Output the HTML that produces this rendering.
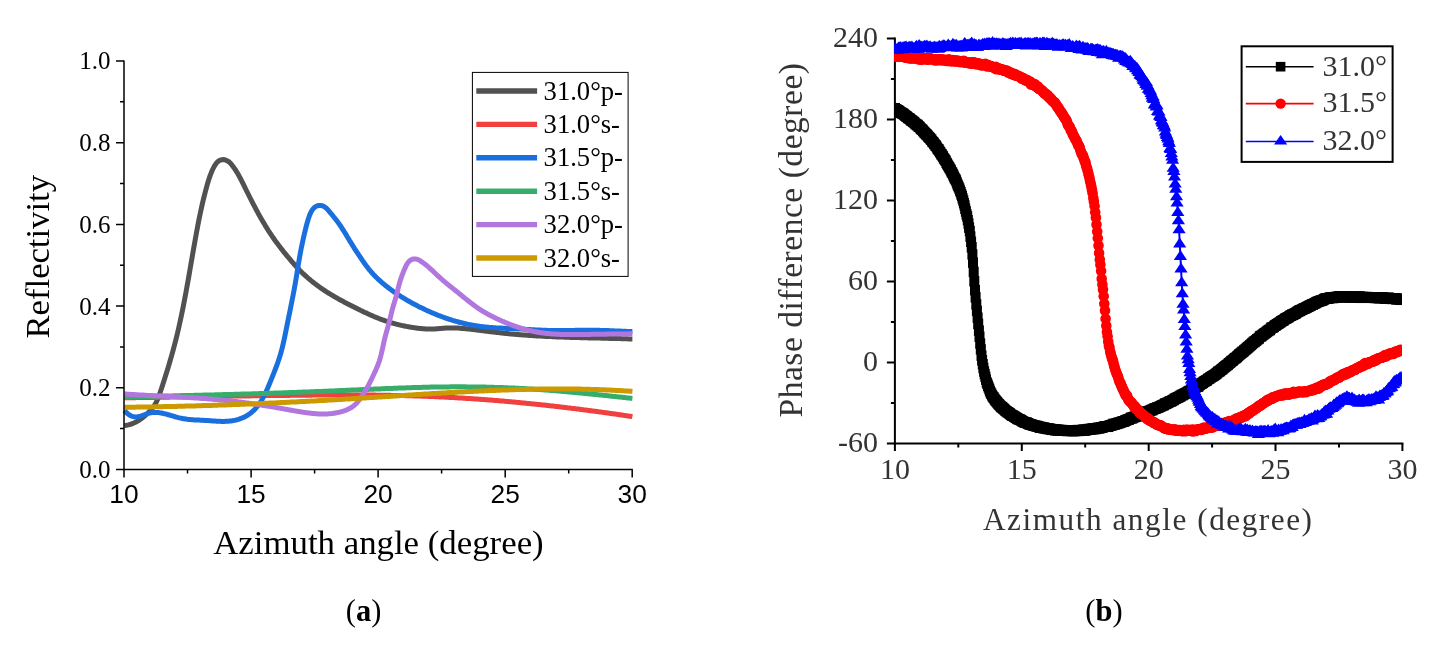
<!DOCTYPE html>
<html><head><meta charset="utf-8"><title>Figure</title>
<style>html,body{margin:0;padding:0;background:#fff}svg{display:block}</style></head>
<body>
<svg width="1443" height="646" viewBox="0 0 1443 646">
<rect width="1443" height="646" fill="#fff"/>
<g fill="none" stroke-width="5" stroke-linejoin="round" stroke-linecap="butt">
<path stroke="#515151" d="M124.4,425.5 L125.4,425.4 L126.4,425.3 L127.4,425.1 L128.4,424.9 L129.4,424.6 L130.4,424.3 L131.4,424.0 L132.4,423.6 L133.4,423.2 L134.4,422.8 L135.4,422.3 L136.4,421.8 L137.4,421.2 L138.4,420.6 L139.4,420.0 L140.4,419.3 L141.4,418.6 L142.4,417.8 L143.4,417.0 L144.4,416.2 L145.4,415.3 L146.4,414.4 L147.4,413.5 L148.4,412.5 L149.4,411.5 L150.4,410.4 L151.4,409.3 L152.4,408.1 L153.4,406.8 L154.4,405.4 L155.4,403.8 L156.4,401.9 L157.4,399.8 L158.4,397.4 L159.4,394.7 L160.4,391.8 L161.4,388.8 L162.4,385.7 L163.4,382.6 L164.4,379.5 L165.4,376.3 L166.4,373.1 L167.4,369.9 L168.4,366.6 L169.4,363.2 L170.4,359.8 L171.4,356.4 L172.4,352.8 L173.4,349.2 L174.4,345.4 L175.4,341.6 L176.4,337.6 L177.4,333.5 L178.4,329.2 L179.4,324.8 L180.4,320.3 L181.4,315.6 L182.4,310.7 L183.4,305.7 L184.4,300.6 L185.4,295.3 L186.4,289.9 L187.4,284.3 L188.4,278.7 L189.4,273.0 L190.4,267.2 L191.4,261.4 L192.4,255.7 L193.4,249.9 L194.4,244.2 L195.4,238.6 L196.4,233.1 L197.4,227.7 L198.4,222.5 L199.4,217.5 L200.4,212.7 L201.4,208.1 L202.4,203.6 L203.4,199.4 L204.4,195.4 L205.4,191.5 L206.4,187.8 L207.4,184.2 L208.4,180.8 L209.4,177.7 L210.4,174.9 L211.4,172.3 L212.4,170.0 L213.4,168.0 L214.4,166.1 L215.4,164.5 L216.4,163.1 L217.4,162.1 L218.4,161.2 L219.4,160.6 L220.4,160.1 L221.4,159.8 L222.4,159.7 L223.4,159.6 L224.4,159.7 L225.4,160.0 L226.4,160.4 L227.4,160.9 L228.4,161.5 L229.4,162.3 L230.4,163.3 L231.4,164.4 L232.4,165.6 L233.4,167.0 L234.4,168.4 L235.4,169.8 L236.4,171.4 L237.4,173.1 L238.4,174.8 L239.4,176.6 L240.4,178.5 L241.4,180.4 L242.4,182.4 L243.4,184.4 L244.4,186.4 L245.4,188.5 L246.4,190.5 L247.4,192.5 L248.4,194.5 L249.4,196.5 L250.4,198.5 L251.4,200.4 L252.4,202.4 L253.4,204.3 L254.4,206.2 L255.4,208.1 L256.4,210.0 L257.4,211.8 L258.4,213.7 L259.4,215.5 L260.4,217.2 L261.4,219.0 L262.4,220.7 L263.4,222.4 L264.4,224.1 L265.4,225.8 L266.4,227.4 L267.4,229.0 L268.4,230.6 L269.4,232.1 L270.4,233.6 L271.4,235.1 L272.4,236.6 L273.4,238.0 L274.4,239.5 L275.4,240.9 L276.4,242.2 L277.4,243.6 L278.4,244.9 L279.4,246.3 L280.4,247.6 L281.4,248.9 L282.4,250.1 L283.4,251.4 L284.4,252.7 L285.4,253.9 L286.4,255.1 L287.4,256.3 L288.4,257.5 L289.4,258.7 L290.4,259.9 L291.4,261.1 L292.4,262.2 L293.4,263.4 L294.4,264.5 L295.4,265.6 L296.4,266.7 L297.4,267.8 L298.4,268.8 L299.4,269.9 L300.4,270.9 L301.4,271.9 L302.4,272.9 L303.4,273.9 L304.4,274.8 L305.4,275.7 L306.4,276.6 L307.4,277.5 L308.4,278.4 L309.4,279.2 L310.4,280.1 L311.4,280.9 L312.4,281.7 L313.4,282.5 L314.4,283.3 L315.4,284.0 L316.4,284.8 L317.4,285.5 L318.4,286.3 L319.4,287.0 L320.4,287.7 L321.4,288.4 L322.4,289.1 L323.4,289.7 L324.4,290.4 L325.4,291.1 L326.4,291.7 L327.4,292.4 L328.4,293.0 L329.4,293.6 L330.4,294.2 L331.4,294.8 L332.4,295.4 L333.4,296.0 L334.4,296.6 L335.4,297.2 L336.4,297.8 L337.4,298.3 L338.4,298.9 L339.4,299.5 L340.4,300.0 L341.4,300.6 L342.4,301.1 L343.4,301.6 L344.4,302.2 L345.4,302.7 L346.4,303.2 L347.4,303.8 L348.4,304.3 L349.4,304.8 L350.4,305.3 L351.4,305.8 L352.4,306.3 L353.4,306.8 L354.4,307.3 L355.4,307.8 L356.4,308.3 L357.4,308.8 L358.4,309.3 L359.4,309.8 L360.4,310.3 L361.4,310.7 L362.4,311.2 L363.4,311.7 L364.4,312.2 L365.4,312.6 L366.4,313.1 L367.4,313.6 L368.4,314.0 L369.4,314.5 L370.4,314.9 L371.4,315.4 L372.4,315.8 L373.4,316.3 L374.4,316.7 L375.4,317.1 L376.4,317.5 L377.4,317.9 L378.4,318.3 L379.4,318.7 L380.4,319.1 L381.4,319.5 L382.4,319.8 L383.4,320.2 L384.4,320.5 L385.4,320.9 L386.4,321.2 L387.4,321.5 L388.4,321.9 L389.4,322.2 L390.4,322.5 L391.4,322.8 L392.4,323.1 L393.4,323.3 L394.4,323.6 L395.4,323.9 L396.4,324.2 L397.4,324.4 L398.4,324.7 L399.4,324.9 L400.4,325.1 L401.4,325.4 L402.4,325.6 L403.4,325.8 L404.4,326.0 L405.4,326.2 L406.4,326.4 L407.4,326.6 L408.4,326.8 L409.4,327.0 L410.4,327.1 L411.4,327.3 L412.4,327.4 L413.4,327.6 L414.4,327.7 L415.4,327.9 L416.4,328.0 L417.4,328.2 L418.4,328.3 L419.4,328.4 L420.4,328.5 L421.4,328.6 L422.4,328.7 L423.4,328.8 L424.4,328.8 L425.4,328.9 L426.4,329.0 L427.4,329.0 L428.4,329.0 L429.4,329.0 L430.4,329.0 L431.4,329.0 L432.4,329.0 L433.4,329.0 L434.4,328.9 L435.4,328.9 L436.4,328.8 L437.4,328.8 L438.4,328.7 L439.4,328.6 L440.4,328.5 L441.4,328.4 L442.4,328.3 L443.4,328.3 L444.4,328.2 L445.4,328.1 L446.4,328.1 L447.4,328.0 L448.4,328.0 L449.4,327.9 L450.4,327.9 L451.4,327.9 L452.4,327.9 L453.4,327.9 L454.4,327.9 L455.4,328.0 L456.4,328.0 L457.4,328.1 L458.4,328.1 L459.4,328.2 L460.4,328.3 L461.4,328.4 L462.4,328.4 L463.4,328.5 L464.4,328.6 L465.4,328.7 L466.4,328.8 L467.4,328.9 L468.4,329.0 L469.4,329.1 L470.4,329.2 L471.4,329.3 L472.4,329.5 L473.4,329.6 L474.4,329.7 L475.4,329.8 L476.4,329.9 L477.4,330.0 L478.4,330.2 L479.4,330.3 L480.4,330.4 L481.4,330.5 L482.4,330.7 L483.4,330.8 L484.4,330.9 L485.4,331.0 L486.4,331.2 L487.4,331.3 L488.4,331.4 L489.4,331.5 L490.4,331.7 L491.4,331.8 L492.4,331.9 L493.4,332.0 L494.4,332.1 L495.4,332.3 L496.4,332.4 L497.4,332.5 L498.4,332.6 L499.4,332.7 L500.4,332.8 L501.4,333.0 L502.4,333.1 L503.4,333.2 L504.4,333.3 L505.4,333.4 L506.4,333.5 L507.4,333.6 L508.4,333.7 L509.4,333.8 L510.4,333.9 L511.4,334.0 L512.4,334.1 L513.4,334.2 L514.4,334.2 L515.4,334.3 L516.4,334.4 L517.4,334.5 L518.4,334.6 L519.4,334.7 L520.4,334.7 L521.4,334.8 L522.4,334.9 L523.4,335.0 L524.4,335.1 L525.4,335.1 L526.4,335.2 L527.4,335.3 L528.4,335.3 L529.4,335.4 L530.4,335.5 L531.4,335.5 L532.4,335.6 L533.4,335.7 L534.4,335.7 L535.4,335.8 L536.4,335.9 L537.4,335.9 L538.4,336.0 L539.4,336.0 L540.4,336.1 L541.4,336.1 L542.4,336.2 L543.4,336.3 L544.4,336.3 L545.4,336.4 L546.4,336.4 L547.4,336.5 L548.4,336.5 L549.4,336.5 L550.4,336.6 L551.4,336.6 L552.4,336.7 L553.4,336.7 L554.4,336.8 L555.4,336.8 L556.4,336.9 L557.4,336.9 L558.4,336.9 L559.4,337.0 L560.4,337.0 L561.4,337.0 L562.4,337.1 L563.4,337.1 L564.4,337.2 L565.4,337.2 L566.4,337.2 L567.4,337.3 L568.4,337.3 L569.4,337.3 L570.4,337.4 L571.4,337.4 L572.4,337.4 L573.4,337.4 L574.4,337.5 L575.4,337.5 L576.4,337.5 L577.4,337.6 L578.4,337.6 L579.4,337.6 L580.4,337.7 L581.4,337.7 L582.4,337.7 L583.4,337.7 L584.4,337.8 L585.4,337.8 L586.4,337.8 L587.4,337.8 L588.4,337.9 L589.4,337.9 L590.4,337.9 L591.4,337.9 L592.4,338.0 L593.4,338.0 L594.4,338.0 L595.4,338.0 L596.4,338.1 L597.4,338.1 L598.4,338.1 L599.4,338.1 L600.4,338.1 L601.4,338.2 L602.4,338.2 L603.4,338.2 L604.4,338.2 L605.4,338.3 L606.4,338.3 L607.4,338.3 L608.4,338.3 L609.4,338.4 L610.4,338.4 L611.4,338.4 L612.4,338.4 L613.4,338.5 L614.4,338.5 L615.4,338.5 L616.4,338.5 L617.4,338.6 L618.4,338.6 L619.4,338.6 L620.4,338.6 L621.4,338.7 L622.4,338.7 L623.4,338.7 L624.4,338.8 L625.4,338.8 L626.4,338.8 L627.4,338.8 L628.4,338.9 L629.4,338.9 L630.4,338.9 L631.4,339.0 L632.4,339.0"/>
<path stroke="#F14040" d="M124.4,397.8 L125.4,397.8 L126.4,397.8 L127.4,397.8 L128.4,397.8 L129.4,397.7 L130.4,397.7 L131.4,397.7 L132.4,397.7 L133.4,397.7 L134.4,397.7 L135.4,397.7 L136.4,397.6 L137.4,397.6 L138.4,397.6 L139.4,397.6 L140.4,397.6 L141.4,397.6 L142.4,397.6 L143.4,397.6 L144.4,397.5 L145.4,397.5 L146.4,397.5 L147.4,397.5 L148.4,397.5 L149.4,397.5 L150.4,397.5 L151.4,397.4 L152.4,397.4 L153.4,397.4 L154.4,397.4 L155.4,397.4 L156.4,397.4 L157.4,397.4 L158.4,397.3 L159.4,397.3 L160.4,397.3 L161.4,397.3 L162.4,397.3 L163.4,397.3 L164.4,397.2 L165.4,397.2 L166.4,397.2 L167.4,397.2 L168.4,397.2 L169.4,397.2 L170.4,397.1 L171.4,397.1 L172.4,397.1 L173.4,397.1 L174.4,397.1 L175.4,397.1 L176.4,397.1 L177.4,397.0 L178.4,397.0 L179.4,397.0 L180.4,397.0 L181.4,397.0 L182.4,397.0 L183.4,396.9 L184.4,396.9 L185.4,396.9 L186.4,396.9 L187.4,396.9 L188.4,396.9 L189.4,396.8 L190.4,396.8 L191.4,396.8 L192.4,396.8 L193.4,396.8 L194.4,396.8 L195.4,396.7 L196.4,396.7 L197.4,396.7 L198.4,396.7 L199.4,396.7 L200.4,396.7 L201.4,396.6 L202.4,396.6 L203.4,396.6 L204.4,396.6 L205.4,396.6 L206.4,396.6 L207.4,396.5 L208.4,396.5 L209.4,396.5 L210.4,396.5 L211.4,396.5 L212.4,396.5 L213.4,396.4 L214.4,396.4 L215.4,396.4 L216.4,396.4 L217.4,396.4 L218.4,396.4 L219.4,396.3 L220.4,396.3 L221.4,396.3 L222.4,396.3 L223.4,396.3 L224.4,396.3 L225.4,396.2 L226.4,396.2 L227.4,396.2 L228.4,396.2 L229.4,396.2 L230.4,396.2 L231.4,396.1 L232.4,396.1 L233.4,396.1 L234.4,396.1 L235.4,396.1 L236.4,396.1 L237.4,396.1 L238.4,396.0 L239.4,396.0 L240.4,396.0 L241.4,396.0 L242.4,396.0 L243.4,396.0 L244.4,395.9 L245.4,395.9 L246.4,395.9 L247.4,395.9 L248.4,395.9 L249.4,395.9 L250.4,395.9 L251.4,395.8 L252.4,395.8 L253.4,395.8 L254.4,395.8 L255.4,395.8 L256.4,395.8 L257.4,395.8 L258.4,395.7 L259.4,395.7 L260.4,395.7 L261.4,395.7 L262.4,395.7 L263.4,395.7 L264.4,395.7 L265.4,395.6 L266.4,395.6 L267.4,395.6 L268.4,395.6 L269.4,395.6 L270.4,395.6 L271.4,395.6 L272.4,395.6 L273.4,395.5 L274.4,395.5 L275.4,395.5 L276.4,395.5 L277.4,395.5 L278.4,395.5 L279.4,395.5 L280.4,395.5 L281.4,395.4 L282.4,395.4 L283.4,395.4 L284.4,395.4 L285.4,395.4 L286.4,395.4 L287.4,395.4 L288.4,395.4 L289.4,395.4 L290.4,395.3 L291.4,395.3 L292.4,395.3 L293.4,395.3 L294.4,395.3 L295.4,395.3 L296.4,395.3 L297.4,395.3 L298.4,395.3 L299.4,395.3 L300.4,395.2 L301.4,395.2 L302.4,395.2 L303.4,395.2 L304.4,395.2 L305.4,395.2 L306.4,395.2 L307.4,395.2 L308.4,395.2 L309.4,395.2 L310.4,395.2 L311.4,395.2 L312.4,395.1 L313.4,395.1 L314.4,395.1 L315.4,395.1 L316.4,395.1 L317.4,395.1 L318.4,395.1 L319.4,395.1 L320.4,395.1 L321.4,395.1 L322.4,395.1 L323.4,395.1 L324.4,395.1 L325.4,395.1 L326.4,395.1 L327.4,395.1 L328.4,395.1 L329.4,395.1 L330.4,395.1 L331.4,395.0 L332.4,395.0 L333.4,395.0 L334.4,395.0 L335.4,395.0 L336.4,395.0 L337.4,395.0 L338.4,395.0 L339.4,395.0 L340.4,395.0 L341.4,395.0 L342.4,395.0 L343.4,395.0 L344.4,395.0 L345.4,395.0 L346.4,395.0 L347.4,395.0 L348.4,395.0 L349.4,395.0 L350.4,395.0 L351.4,395.0 L352.4,395.0 L353.4,395.0 L354.4,395.0 L355.4,395.0 L356.4,395.0 L357.4,395.0 L358.4,395.0 L359.4,395.0 L360.4,395.0 L361.4,395.1 L362.4,395.1 L363.4,395.1 L364.4,395.1 L365.4,395.1 L366.4,395.1 L367.4,395.1 L368.4,395.1 L369.4,395.1 L370.4,395.1 L371.4,395.1 L372.4,395.1 L373.4,395.1 L374.4,395.1 L375.4,395.1 L376.4,395.2 L377.4,395.2 L378.4,395.2 L379.4,395.2 L380.4,395.2 L381.4,395.2 L382.4,395.2 L383.4,395.2 L384.4,395.3 L385.4,395.3 L386.4,395.3 L387.4,395.3 L388.4,395.3 L389.4,395.3 L390.4,395.3 L391.4,395.4 L392.4,395.4 L393.4,395.4 L394.4,395.4 L395.4,395.4 L396.4,395.5 L397.4,395.5 L398.4,395.5 L399.4,395.5 L400.4,395.5 L401.4,395.6 L402.4,395.6 L403.4,395.6 L404.4,395.6 L405.4,395.7 L406.4,395.7 L407.4,395.7 L408.4,395.7 L409.4,395.8 L410.4,395.8 L411.4,395.8 L412.4,395.8 L413.4,395.9 L414.4,395.9 L415.4,395.9 L416.4,396.0 L417.4,396.0 L418.4,396.0 L419.4,396.1 L420.4,396.1 L421.4,396.1 L422.4,396.2 L423.4,396.2 L424.4,396.2 L425.4,396.3 L426.4,396.3 L427.4,396.3 L428.4,396.4 L429.4,396.4 L430.4,396.5 L431.4,396.5 L432.4,396.5 L433.4,396.6 L434.4,396.6 L435.4,396.7 L436.4,396.7 L437.4,396.8 L438.4,396.8 L439.4,396.9 L440.4,396.9 L441.4,397.0 L442.4,397.0 L443.4,397.1 L444.4,397.1 L445.4,397.2 L446.4,397.2 L447.4,397.3 L448.4,397.3 L449.4,397.4 L450.4,397.4 L451.4,397.5 L452.4,397.5 L453.4,397.6 L454.4,397.6 L455.4,397.7 L456.4,397.7 L457.4,397.8 L458.4,397.9 L459.4,397.9 L460.4,398.0 L461.4,398.0 L462.4,398.1 L463.4,398.2 L464.4,398.2 L465.4,398.3 L466.4,398.4 L467.4,398.4 L468.4,398.5 L469.4,398.5 L470.4,398.6 L471.4,398.7 L472.4,398.7 L473.4,398.8 L474.4,398.9 L475.4,399.0 L476.4,399.0 L477.4,399.1 L478.4,399.2 L479.4,399.2 L480.4,399.3 L481.4,399.4 L482.4,399.5 L483.4,399.5 L484.4,399.6 L485.4,399.7 L486.4,399.8 L487.4,399.8 L488.4,399.9 L489.4,400.0 L490.4,400.1 L491.4,400.1 L492.4,400.2 L493.4,400.3 L494.4,400.4 L495.4,400.5 L496.4,400.5 L497.4,400.6 L498.4,400.7 L499.4,400.8 L500.4,400.9 L501.4,401.0 L502.4,401.0 L503.4,401.1 L504.4,401.2 L505.4,401.3 L506.4,401.4 L507.4,401.5 L508.4,401.6 L509.4,401.7 L510.4,401.7 L511.4,401.8 L512.4,401.9 L513.4,402.0 L514.4,402.1 L515.4,402.2 L516.4,402.3 L517.4,402.4 L518.4,402.5 L519.4,402.6 L520.4,402.7 L521.4,402.8 L522.4,402.9 L523.4,403.0 L524.4,403.1 L525.4,403.2 L526.4,403.3 L527.4,403.4 L528.4,403.5 L529.4,403.6 L530.4,403.7 L531.4,403.8 L532.4,403.9 L533.4,404.0 L534.4,404.1 L535.4,404.2 L536.4,404.3 L537.4,404.4 L538.4,404.5 L539.4,404.6 L540.4,404.7 L541.4,404.8 L542.4,404.9 L543.4,405.0 L544.4,405.1 L545.4,405.2 L546.4,405.3 L547.4,405.5 L548.4,405.6 L549.4,405.7 L550.4,405.8 L551.4,405.9 L552.4,406.0 L553.4,406.1 L554.4,406.2 L555.4,406.4 L556.4,406.5 L557.4,406.6 L558.4,406.7 L559.4,406.8 L560.4,406.9 L561.4,407.1 L562.4,407.2 L563.4,407.3 L564.4,407.4 L565.4,407.5 L566.4,407.6 L567.4,407.8 L568.4,407.9 L569.4,408.0 L570.4,408.1 L571.4,408.3 L572.4,408.4 L573.4,408.5 L574.4,408.6 L575.4,408.7 L576.4,408.9 L577.4,409.0 L578.4,409.1 L579.4,409.2 L580.4,409.4 L581.4,409.5 L582.4,409.6 L583.4,409.8 L584.4,409.9 L585.4,410.0 L586.4,410.1 L587.4,410.3 L588.4,410.4 L589.4,410.5 L590.4,410.7 L591.4,410.8 L592.4,410.9 L593.4,411.1 L594.4,411.2 L595.4,411.3 L596.4,411.5 L597.4,411.6 L598.4,411.7 L599.4,411.9 L600.4,412.0 L601.4,412.1 L602.4,412.3 L603.4,412.4 L604.4,412.6 L605.4,412.7 L606.4,412.8 L607.4,413.0 L608.4,413.1 L609.4,413.3 L610.4,413.4 L611.4,413.5 L612.4,413.7 L613.4,413.8 L614.4,414.0 L615.4,414.1 L616.4,414.2 L617.4,414.4 L618.4,414.5 L619.4,414.7 L620.4,414.8 L621.4,415.0 L622.4,415.1 L623.4,415.3 L624.4,415.4 L625.4,415.6 L626.4,415.7 L627.4,415.9 L628.4,416.0 L629.4,416.2 L630.4,416.3 L631.4,416.4 L632.4,416.6"/>
<path stroke="#1A6FDF" d="M124.4,410.3 L125.4,411.5 L126.4,412.5 L127.4,413.5 L128.4,414.3 L129.4,415.0 L130.4,415.5 L131.4,416.0 L132.4,416.4 L133.4,416.6 L134.4,416.8 L135.4,416.9 L136.4,416.9 L137.4,416.8 L138.4,416.6 L139.4,416.4 L140.4,416.2 L141.4,415.9 L142.4,415.5 L143.4,415.2 L144.4,414.8 L145.4,414.5 L146.4,414.1 L147.4,413.7 L148.4,413.4 L149.4,413.1 L150.4,412.9 L151.4,412.7 L152.4,412.6 L153.4,412.5 L154.4,412.4 L155.4,412.4 L156.4,412.5 L157.4,412.5 L158.4,412.6 L159.4,412.7 L160.4,412.9 L161.4,413.0 L162.4,413.2 L163.4,413.5 L164.4,413.7 L165.4,413.9 L166.4,414.2 L167.4,414.5 L168.4,414.8 L169.4,415.0 L170.4,415.3 L171.4,415.6 L172.4,415.9 L173.4,416.2 L174.4,416.5 L175.4,416.8 L176.4,417.1 L177.4,417.4 L178.4,417.6 L179.4,417.9 L180.4,418.1 L181.4,418.3 L182.4,418.5 L183.4,418.7 L184.4,418.8 L185.4,419.0 L186.4,419.1 L187.4,419.3 L188.4,419.4 L189.4,419.5 L190.4,419.6 L191.4,419.7 L192.4,419.7 L193.4,419.8 L194.4,419.9 L195.4,419.9 L196.4,420.0 L197.4,420.0 L198.4,420.1 L199.4,420.1 L200.4,420.2 L201.4,420.2 L202.4,420.3 L203.4,420.3 L204.4,420.4 L205.4,420.4 L206.4,420.5 L207.4,420.5 L208.4,420.6 L209.4,420.7 L210.4,420.8 L211.4,420.8 L212.4,420.9 L213.4,421.0 L214.4,421.0 L215.4,421.1 L216.4,421.2 L217.4,421.2 L218.4,421.3 L219.4,421.3 L220.4,421.3 L221.4,421.4 L222.4,421.4 L223.4,421.4 L224.4,421.4 L225.4,421.3 L226.4,421.3 L227.4,421.3 L228.4,421.2 L229.4,421.1 L230.4,421.0 L231.4,420.9 L232.4,420.7 L233.4,420.6 L234.4,420.4 L235.4,420.2 L236.4,419.9 L237.4,419.7 L238.4,419.4 L239.4,419.0 L240.4,418.7 L241.4,418.3 L242.4,417.9 L243.4,417.4 L244.4,417.0 L245.4,416.5 L246.4,415.9 L247.4,415.3 L248.4,414.7 L249.4,414.0 L250.4,413.3 L251.4,412.5 L252.4,411.6 L253.4,410.7 L254.4,409.7 L255.4,408.7 L256.4,407.5 L257.4,406.3 L258.4,405.0 L259.4,403.7 L260.4,402.2 L261.4,400.6 L262.4,398.9 L263.4,397.1 L264.4,395.2 L265.4,393.2 L266.4,391.0 L267.4,388.8 L268.4,386.4 L269.4,384.0 L270.4,381.6 L271.4,379.1 L272.4,376.6 L273.4,374.1 L274.4,371.6 L275.4,369.0 L276.4,366.3 L277.4,363.6 L278.4,360.7 L279.4,357.7 L280.4,354.5 L281.4,351.0 L282.4,347.1 L283.4,342.9 L284.4,338.4 L285.4,333.6 L286.4,328.6 L287.4,323.6 L288.4,318.6 L289.4,313.7 L290.4,308.8 L291.4,303.8 L292.4,298.8 L293.4,293.6 L294.4,288.2 L295.4,282.6 L296.4,276.6 L297.4,270.4 L298.4,264.2 L299.4,258.3 L300.4,252.7 L301.4,247.6 L302.4,242.7 L303.4,238.2 L304.4,233.8 L305.4,229.6 L306.4,225.7 L307.4,222.0 L308.4,218.7 L309.4,215.8 L310.4,213.3 L311.4,211.3 L312.4,209.7 L313.4,208.5 L314.4,207.5 L315.4,206.7 L316.4,206.2 L317.4,205.8 L318.4,205.5 L319.4,205.4 L320.4,205.4 L321.4,205.6 L322.4,205.8 L323.4,206.3 L324.4,206.8 L325.4,207.5 L326.4,208.3 L327.4,209.3 L328.4,210.4 L329.4,211.6 L330.4,212.8 L331.4,214.0 L332.4,215.2 L333.4,216.5 L334.4,217.7 L335.4,219.0 L336.4,220.3 L337.4,221.6 L338.4,222.9 L339.4,224.3 L340.4,225.8 L341.4,227.2 L342.4,228.8 L343.4,230.4 L344.4,232.0 L345.4,233.6 L346.4,235.3 L347.4,237.0 L348.4,238.6 L349.4,240.3 L350.4,241.9 L351.4,243.5 L352.4,245.1 L353.4,246.7 L354.4,248.3 L355.4,249.8 L356.4,251.4 L357.4,252.9 L358.4,254.4 L359.4,255.9 L360.4,257.4 L361.4,258.9 L362.4,260.4 L363.4,261.8 L364.4,263.2 L365.4,264.6 L366.4,266.0 L367.4,267.3 L368.4,268.6 L369.4,269.8 L370.4,271.0 L371.4,272.2 L372.4,273.3 L373.4,274.4 L374.4,275.4 L375.4,276.5 L376.4,277.5 L377.4,278.4 L378.4,279.4 L379.4,280.3 L380.4,281.2 L381.4,282.1 L382.4,283.0 L383.4,283.8 L384.4,284.6 L385.4,285.5 L386.4,286.3 L387.4,287.0 L388.4,287.8 L389.4,288.6 L390.4,289.3 L391.4,290.0 L392.4,290.8 L393.4,291.5 L394.4,292.2 L395.4,292.9 L396.4,293.5 L397.4,294.2 L398.4,294.9 L399.4,295.5 L400.4,296.2 L401.4,296.8 L402.4,297.4 L403.4,298.0 L404.4,298.6 L405.4,299.2 L406.4,299.8 L407.4,300.4 L408.4,301.0 L409.4,301.5 L410.4,302.1 L411.4,302.7 L412.4,303.2 L413.4,303.7 L414.4,304.3 L415.4,304.8 L416.4,305.3 L417.4,305.8 L418.4,306.4 L419.4,306.9 L420.4,307.4 L421.4,307.8 L422.4,308.3 L423.4,308.8 L424.4,309.3 L425.4,309.8 L426.4,310.2 L427.4,310.7 L428.4,311.1 L429.4,311.6 L430.4,312.0 L431.4,312.5 L432.4,312.9 L433.4,313.3 L434.4,313.7 L435.4,314.1 L436.4,314.6 L437.4,315.0 L438.4,315.4 L439.4,315.7 L440.4,316.1 L441.4,316.5 L442.4,316.9 L443.4,317.2 L444.4,317.6 L445.4,318.0 L446.4,318.3 L447.4,318.6 L448.4,319.0 L449.4,319.3 L450.4,319.6 L451.4,319.9 L452.4,320.3 L453.4,320.6 L454.4,320.9 L455.4,321.2 L456.4,321.4 L457.4,321.7 L458.4,322.0 L459.4,322.3 L460.4,322.5 L461.4,322.8 L462.4,323.0 L463.4,323.3 L464.4,323.5 L465.4,323.7 L466.4,323.9 L467.4,324.2 L468.4,324.4 L469.4,324.6 L470.4,324.8 L471.4,325.0 L472.4,325.2 L473.4,325.3 L474.4,325.5 L475.4,325.7 L476.4,325.8 L477.4,326.0 L478.4,326.1 L479.4,326.3 L480.4,326.4 L481.4,326.5 L482.4,326.7 L483.4,326.8 L484.4,326.9 L485.4,327.0 L486.4,327.1 L487.4,327.2 L488.4,327.3 L489.4,327.4 L490.4,327.4 L491.4,327.5 L492.4,327.6 L493.4,327.7 L494.4,327.7 L495.4,327.8 L496.4,327.9 L497.4,327.9 L498.4,328.0 L499.4,328.0 L500.4,328.1 L501.4,328.1 L502.4,328.2 L503.4,328.2 L504.4,328.3 L505.4,328.3 L506.4,328.4 L507.4,328.4 L508.4,328.5 L509.4,328.5 L510.4,328.5 L511.4,328.6 L512.4,328.6 L513.4,328.7 L514.4,328.7 L515.4,328.8 L516.4,328.8 L517.4,328.9 L518.4,328.9 L519.4,329.0 L520.4,329.0 L521.4,329.1 L522.4,329.1 L523.4,329.2 L524.4,329.2 L525.4,329.3 L526.4,329.4 L527.4,329.4 L528.4,329.5 L529.4,329.5 L530.4,329.6 L531.4,329.7 L532.4,329.7 L533.4,329.8 L534.4,329.8 L535.4,329.9 L536.4,330.0 L537.4,330.0 L538.4,330.1 L539.4,330.1 L540.4,330.1 L541.4,330.2 L542.4,330.2 L543.4,330.3 L544.4,330.3 L545.4,330.3 L546.4,330.3 L547.4,330.4 L548.4,330.4 L549.4,330.4 L550.4,330.4 L551.4,330.4 L552.4,330.4 L553.4,330.5 L554.4,330.5 L555.4,330.5 L556.4,330.5 L557.4,330.5 L558.4,330.5 L559.4,330.5 L560.4,330.5 L561.4,330.5 L562.4,330.5 L563.4,330.5 L564.4,330.5 L565.4,330.4 L566.4,330.4 L567.4,330.4 L568.4,330.4 L569.4,330.4 L570.4,330.4 L571.4,330.4 L572.4,330.4 L573.4,330.4 L574.4,330.4 L575.4,330.3 L576.4,330.3 L577.4,330.3 L578.4,330.3 L579.4,330.3 L580.4,330.3 L581.4,330.3 L582.4,330.3 L583.4,330.3 L584.4,330.3 L585.4,330.3 L586.4,330.3 L587.4,330.3 L588.4,330.2 L589.4,330.2 L590.4,330.3 L591.4,330.3 L592.4,330.3 L593.4,330.3 L594.4,330.3 L595.4,330.3 L596.4,330.3 L597.4,330.3 L598.4,330.3 L599.4,330.3 L600.4,330.4 L601.4,330.4 L602.4,330.4 L603.4,330.4 L604.4,330.5 L605.4,330.5 L606.4,330.5 L607.4,330.6 L608.4,330.6 L609.4,330.7 L610.4,330.7 L611.4,330.7 L612.4,330.8 L613.4,330.8 L614.4,330.9 L615.4,330.9 L616.4,331.0 L617.4,331.0 L618.4,331.0 L619.4,331.1 L620.4,331.1 L621.4,331.2 L622.4,331.2 L623.4,331.3 L624.4,331.3 L625.4,331.3 L626.4,331.4 L627.4,331.4 L628.4,331.5 L629.4,331.5 L630.4,331.5 L631.4,331.6 L632.4,331.6"/>
<path stroke="#37AD6B" d="M124.4,397.0 L125.4,397.0 L126.4,397.0 L127.4,396.9 L128.4,396.9 L129.4,396.9 L130.4,396.9 L131.4,396.8 L132.4,396.8 L133.4,396.8 L134.4,396.8 L135.4,396.7 L136.4,396.7 L137.4,396.7 L138.4,396.7 L139.4,396.6 L140.4,396.6 L141.4,396.6 L142.4,396.6 L143.4,396.5 L144.4,396.5 L145.4,396.5 L146.4,396.5 L147.4,396.4 L148.4,396.4 L149.4,396.4 L150.4,396.4 L151.4,396.3 L152.4,396.3 L153.4,396.3 L154.4,396.3 L155.4,396.3 L156.4,396.2 L157.4,396.2 L158.4,396.2 L159.4,396.2 L160.4,396.1 L161.4,396.1 L162.4,396.1 L163.4,396.1 L164.4,396.0 L165.4,396.0 L166.4,396.0 L167.4,396.0 L168.4,396.0 L169.4,395.9 L170.4,395.9 L171.4,395.9 L172.4,395.9 L173.4,395.8 L174.4,395.8 L175.4,395.8 L176.4,395.8 L177.4,395.7 L178.4,395.7 L179.4,395.7 L180.4,395.7 L181.4,395.6 L182.4,395.6 L183.4,395.6 L184.4,395.6 L185.4,395.6 L186.4,395.5 L187.4,395.5 L188.4,395.5 L189.4,395.5 L190.4,395.4 L191.4,395.4 L192.4,395.4 L193.4,395.4 L194.4,395.3 L195.4,395.3 L196.4,395.3 L197.4,395.3 L198.4,395.2 L199.4,395.2 L200.4,395.2 L201.4,395.2 L202.4,395.2 L203.4,395.1 L204.4,395.1 L205.4,395.1 L206.4,395.1 L207.4,395.0 L208.4,395.0 L209.4,395.0 L210.4,395.0 L211.4,394.9 L212.4,394.9 L213.4,394.9 L214.4,394.9 L215.4,394.8 L216.4,394.8 L217.4,394.8 L218.4,394.8 L219.4,394.7 L220.4,394.7 L221.4,394.7 L222.4,394.7 L223.4,394.6 L224.4,394.6 L225.4,394.6 L226.4,394.5 L227.4,394.5 L228.4,394.5 L229.4,394.5 L230.4,394.4 L231.4,394.4 L232.4,394.4 L233.4,394.4 L234.4,394.3 L235.4,394.3 L236.4,394.3 L237.4,394.3 L238.4,394.2 L239.4,394.2 L240.4,394.2 L241.4,394.1 L242.4,394.1 L243.4,394.1 L244.4,394.1 L245.4,394.0 L246.4,394.0 L247.4,394.0 L248.4,393.9 L249.4,393.9 L250.4,393.9 L251.4,393.9 L252.4,393.8 L253.4,393.8 L254.4,393.8 L255.4,393.7 L256.4,393.7 L257.4,393.7 L258.4,393.7 L259.4,393.6 L260.4,393.6 L261.4,393.6 L262.4,393.5 L263.4,393.5 L264.4,393.5 L265.4,393.4 L266.4,393.4 L267.4,393.4 L268.4,393.3 L269.4,393.3 L270.4,393.3 L271.4,393.2 L272.4,393.2 L273.4,393.2 L274.4,393.1 L275.4,393.1 L276.4,393.1 L277.4,393.0 L278.4,393.0 L279.4,393.0 L280.4,392.9 L281.4,392.9 L282.4,392.9 L283.4,392.8 L284.4,392.8 L285.4,392.8 L286.4,392.7 L287.4,392.7 L288.4,392.7 L289.4,392.6 L290.4,392.6 L291.4,392.6 L292.4,392.5 L293.4,392.5 L294.4,392.4 L295.4,392.4 L296.4,392.4 L297.4,392.3 L298.4,392.3 L299.4,392.3 L300.4,392.2 L301.4,392.2 L302.4,392.1 L303.4,392.1 L304.4,392.1 L305.4,392.0 L306.4,392.0 L307.4,392.0 L308.4,391.9 L309.4,391.9 L310.4,391.8 L311.4,391.8 L312.4,391.8 L313.4,391.7 L314.4,391.7 L315.4,391.6 L316.4,391.6 L317.4,391.6 L318.4,391.5 L319.4,391.5 L320.4,391.4 L321.4,391.4 L322.4,391.4 L323.4,391.3 L324.4,391.3 L325.4,391.2 L326.4,391.2 L327.4,391.2 L328.4,391.1 L329.4,391.1 L330.4,391.0 L331.4,391.0 L332.4,390.9 L333.4,390.9 L334.4,390.9 L335.4,390.8 L336.4,390.8 L337.4,390.7 L338.4,390.7 L339.4,390.6 L340.4,390.6 L341.4,390.6 L342.4,390.5 L343.4,390.5 L344.4,390.4 L345.4,390.4 L346.4,390.3 L347.4,390.3 L348.4,390.3 L349.4,390.2 L350.4,390.2 L351.4,390.1 L352.4,390.1 L353.4,390.0 L354.4,390.0 L355.4,390.0 L356.4,389.9 L357.4,389.9 L358.4,389.8 L359.4,389.8 L360.4,389.7 L361.4,389.7 L362.4,389.6 L363.4,389.6 L364.4,389.6 L365.4,389.5 L366.4,389.5 L367.4,389.4 L368.4,389.4 L369.4,389.3 L370.4,389.3 L371.4,389.3 L372.4,389.2 L373.4,389.2 L374.4,389.1 L375.4,389.1 L376.4,389.0 L377.4,389.0 L378.4,388.9 L379.4,388.9 L380.4,388.9 L381.4,388.8 L382.4,388.8 L383.4,388.7 L384.4,388.7 L385.4,388.6 L386.4,388.6 L387.4,388.6 L388.4,388.5 L389.4,388.5 L390.4,388.4 L391.4,388.4 L392.4,388.4 L393.4,388.3 L394.4,388.3 L395.4,388.2 L396.4,388.2 L397.4,388.2 L398.4,388.1 L399.4,388.1 L400.4,388.0 L401.4,388.0 L402.4,388.0 L403.4,387.9 L404.4,387.9 L405.4,387.9 L406.4,387.8 L407.4,387.8 L408.4,387.8 L409.4,387.7 L410.4,387.7 L411.4,387.7 L412.4,387.6 L413.4,387.6 L414.4,387.6 L415.4,387.5 L416.4,387.5 L417.4,387.5 L418.4,387.4 L419.4,387.4 L420.4,387.4 L421.4,387.4 L422.4,387.3 L423.4,387.3 L424.4,387.3 L425.4,387.3 L426.4,387.2 L427.4,387.2 L428.4,387.2 L429.4,387.2 L430.4,387.1 L431.4,387.1 L432.4,387.1 L433.4,387.1 L434.4,387.1 L435.4,387.0 L436.4,387.0 L437.4,387.0 L438.4,387.0 L439.4,387.0 L440.4,387.0 L441.4,386.9 L442.4,386.9 L443.4,386.9 L444.4,386.9 L445.4,386.9 L446.4,386.9 L447.4,386.9 L448.4,386.9 L449.4,386.9 L450.4,386.8 L451.4,386.8 L452.4,386.8 L453.4,386.8 L454.4,386.8 L455.4,386.8 L456.4,386.8 L457.4,386.8 L458.4,386.8 L459.4,386.8 L460.4,386.8 L461.4,386.8 L462.4,386.8 L463.4,386.8 L464.4,386.8 L465.4,386.8 L466.4,386.9 L467.4,386.9 L468.4,386.9 L469.4,386.9 L470.4,386.9 L471.4,386.9 L472.4,386.9 L473.4,386.9 L474.4,386.9 L475.4,386.9 L476.4,387.0 L477.4,387.0 L478.4,387.0 L479.4,387.0 L480.4,387.0 L481.4,387.0 L482.4,387.1 L483.4,387.1 L484.4,387.1 L485.4,387.1 L486.4,387.2 L487.4,387.2 L488.4,387.2 L489.4,387.2 L490.4,387.3 L491.4,387.3 L492.4,387.3 L493.4,387.3 L494.4,387.4 L495.4,387.4 L496.4,387.4 L497.4,387.5 L498.4,387.5 L499.4,387.5 L500.4,387.6 L501.4,387.6 L502.4,387.6 L503.4,387.7 L504.4,387.7 L505.4,387.7 L506.4,387.8 L507.4,387.8 L508.4,387.9 L509.4,387.9 L510.4,387.9 L511.4,388.0 L512.4,388.0 L513.4,388.1 L514.4,388.1 L515.4,388.2 L516.4,388.2 L517.4,388.3 L518.4,388.3 L519.4,388.4 L520.4,388.4 L521.4,388.5 L522.4,388.5 L523.4,388.6 L524.4,388.6 L525.4,388.7 L526.4,388.8 L527.4,388.8 L528.4,388.9 L529.4,388.9 L530.4,389.0 L531.4,389.0 L532.4,389.1 L533.4,389.2 L534.4,389.2 L535.4,389.3 L536.4,389.4 L537.4,389.4 L538.4,389.5 L539.4,389.6 L540.4,389.6 L541.4,389.7 L542.4,389.8 L543.4,389.8 L544.4,389.9 L545.4,390.0 L546.4,390.1 L547.4,390.1 L548.4,390.2 L549.4,390.3 L550.4,390.4 L551.4,390.4 L552.4,390.5 L553.4,390.6 L554.4,390.7 L555.4,390.8 L556.4,390.8 L557.4,390.9 L558.4,391.0 L559.4,391.1 L560.4,391.2 L561.4,391.3 L562.4,391.4 L563.4,391.4 L564.4,391.5 L565.4,391.6 L566.4,391.7 L567.4,391.8 L568.4,391.9 L569.4,392.0 L570.4,392.1 L571.4,392.2 L572.4,392.2 L573.4,392.3 L574.4,392.4 L575.4,392.5 L576.4,392.6 L577.4,392.7 L578.4,392.8 L579.4,392.9 L580.4,393.0 L581.4,393.1 L582.4,393.2 L583.4,393.3 L584.4,393.4 L585.4,393.5 L586.4,393.6 L587.4,393.7 L588.4,393.8 L589.4,393.9 L590.4,394.0 L591.4,394.1 L592.4,394.2 L593.4,394.3 L594.4,394.4 L595.4,394.5 L596.4,394.6 L597.4,394.7 L598.4,394.8 L599.4,394.9 L600.4,395.0 L601.4,395.1 L602.4,395.2 L603.4,395.3 L604.4,395.4 L605.4,395.5 L606.4,395.6 L607.4,395.7 L608.4,395.8 L609.4,395.9 L610.4,396.0 L611.4,396.2 L612.4,396.3 L613.4,396.4 L614.4,396.5 L615.4,396.6 L616.4,396.7 L617.4,396.8 L618.4,396.9 L619.4,397.0 L620.4,397.1 L621.4,397.2 L622.4,397.3 L623.4,397.4 L624.4,397.5 L625.4,397.6 L626.4,397.8 L627.4,397.9 L628.4,398.0 L629.4,398.1 L630.4,398.2 L631.4,398.3 L632.4,398.4"/>
<path stroke="#B177DE" d="M124.4,394.0 L125.4,394.1 L126.4,394.1 L127.4,394.2 L128.4,394.3 L129.4,394.3 L130.4,394.4 L131.4,394.5 L132.4,394.5 L133.4,394.6 L134.4,394.6 L135.4,394.7 L136.4,394.8 L137.4,394.8 L138.4,394.9 L139.4,394.9 L140.4,395.0 L141.4,395.0 L142.4,395.1 L143.4,395.1 L144.4,395.2 L145.4,395.3 L146.4,395.3 L147.4,395.4 L148.4,395.4 L149.4,395.5 L150.4,395.5 L151.4,395.6 L152.4,395.6 L153.4,395.7 L154.4,395.7 L155.4,395.8 L156.4,395.8 L157.4,395.9 L158.4,395.9 L159.4,396.0 L160.4,396.0 L161.4,396.1 L162.4,396.1 L163.4,396.2 L164.4,396.2 L165.4,396.3 L166.4,396.3 L167.4,396.4 L168.4,396.4 L169.4,396.5 L170.4,396.5 L171.4,396.6 L172.4,396.6 L173.4,396.7 L174.4,396.7 L175.4,396.8 L176.4,396.8 L177.4,396.9 L178.4,397.0 L179.4,397.0 L180.4,397.1 L181.4,397.1 L182.4,397.2 L183.4,397.2 L184.4,397.3 L185.4,397.3 L186.4,397.4 L187.4,397.5 L188.4,397.5 L189.4,397.6 L190.4,397.6 L191.4,397.7 L192.4,397.8 L193.4,397.8 L194.4,397.9 L195.4,398.0 L196.4,398.0 L197.4,398.1 L198.4,398.1 L199.4,398.2 L200.4,398.3 L201.4,398.4 L202.4,398.4 L203.4,398.5 L204.4,398.6 L205.4,398.6 L206.4,398.7 L207.4,398.8 L208.4,398.9 L209.4,399.0 L210.4,399.0 L211.4,399.1 L212.4,399.2 L213.4,399.3 L214.4,399.4 L215.4,399.4 L216.4,399.5 L217.4,399.6 L218.4,399.7 L219.4,399.8 L220.4,399.9 L221.4,400.0 L222.4,400.1 L223.4,400.2 L224.4,400.3 L225.4,400.4 L226.4,400.5 L227.4,400.6 L228.4,400.7 L229.4,400.8 L230.4,400.9 L231.4,401.0 L232.4,401.1 L233.4,401.3 L234.4,401.4 L235.4,401.5 L236.4,401.6 L237.4,401.7 L238.4,401.9 L239.4,402.0 L240.4,402.1 L241.4,402.2 L242.4,402.4 L243.4,402.5 L244.4,402.6 L245.4,402.8 L246.4,402.9 L247.4,403.0 L248.4,403.2 L249.4,403.3 L250.4,403.5 L251.4,403.6 L252.4,403.8 L253.4,403.9 L254.4,404.1 L255.4,404.2 L256.4,404.4 L257.4,404.5 L258.4,404.7 L259.4,404.8 L260.4,405.0 L261.4,405.1 L262.4,405.3 L263.4,405.4 L264.4,405.6 L265.4,405.8 L266.4,405.9 L267.4,406.1 L268.4,406.2 L269.4,406.4 L270.4,406.6 L271.4,406.7 L272.4,406.9 L273.4,407.1 L274.4,407.2 L275.4,407.4 L276.4,407.6 L277.4,407.8 L278.4,407.9 L279.4,408.1 L280.4,408.3 L281.4,408.5 L282.4,408.6 L283.4,408.8 L284.4,409.0 L285.4,409.2 L286.4,409.3 L287.4,409.5 L288.4,409.7 L289.4,409.9 L290.4,410.0 L291.4,410.2 L292.4,410.4 L293.4,410.6 L294.4,410.8 L295.4,410.9 L296.4,411.1 L297.4,411.3 L298.4,411.5 L299.4,411.6 L300.4,411.8 L301.4,412.0 L302.4,412.1 L303.4,412.3 L304.4,412.4 L305.4,412.6 L306.4,412.7 L307.4,412.8 L308.4,413.0 L309.4,413.1 L310.4,413.2 L311.4,413.3 L312.4,413.4 L313.4,413.5 L314.4,413.6 L315.4,413.7 L316.4,413.8 L317.4,413.8 L318.4,413.9 L319.4,413.9 L320.4,414.0 L321.4,414.0 L322.4,414.0 L323.4,414.0 L324.4,414.0 L325.4,414.0 L326.4,413.9 L327.4,413.9 L328.4,413.8 L329.4,413.7 L330.4,413.7 L331.4,413.6 L332.4,413.4 L333.4,413.3 L334.4,413.2 L335.4,413.0 L336.4,412.8 L337.4,412.6 L338.4,412.4 L339.4,412.2 L340.4,411.9 L341.4,411.7 L342.4,411.4 L343.4,411.1 L344.4,410.7 L345.4,410.4 L346.4,410.0 L347.4,409.6 L348.4,409.1 L349.4,408.6 L350.4,408.1 L351.4,407.5 L352.4,406.8 L353.4,406.0 L354.4,405.2 L355.4,404.3 L356.4,403.3 L357.4,402.2 L358.4,401.0 L359.4,399.7 L360.4,398.4 L361.4,397.0 L362.4,395.5 L363.4,394.0 L364.4,392.4 L365.4,390.8 L366.4,389.0 L367.4,387.2 L368.4,385.4 L369.4,383.4 L370.4,381.4 L371.4,379.4 L372.4,377.3 L373.4,375.2 L374.4,373.0 L375.4,370.9 L376.4,368.6 L377.4,366.3 L378.4,363.7 L379.4,360.8 L380.4,357.5 L381.4,353.5 L382.4,349.1 L383.4,344.4 L384.4,339.9 L385.4,335.9 L386.4,332.2 L387.4,328.7 L388.4,325.1 L389.4,321.4 L390.4,317.4 L391.4,313.2 L392.4,309.2 L393.4,305.5 L394.4,302.2 L395.4,298.9 L396.4,295.5 L397.4,291.6 L398.4,287.3 L399.4,283.4 L400.4,280.1 L401.4,277.1 L402.4,274.4 L403.4,271.9 L404.4,269.5 L405.4,267.2 L406.4,265.1 L407.4,263.4 L408.4,262.1 L409.4,261.0 L410.4,260.2 L411.4,259.7 L412.4,259.2 L413.4,259.0 L414.4,258.9 L415.4,258.9 L416.4,259.1 L417.4,259.4 L418.4,259.8 L419.4,260.3 L420.4,260.9 L421.4,261.6 L422.4,262.3 L423.4,263.0 L424.4,263.7 L425.4,264.5 L426.4,265.3 L427.4,266.1 L428.4,267.0 L429.4,267.9 L430.4,268.8 L431.4,269.7 L432.4,270.6 L433.4,271.6 L434.4,272.5 L435.4,273.5 L436.4,274.4 L437.4,275.4 L438.4,276.3 L439.4,277.2 L440.4,278.1 L441.4,279.0 L442.4,279.9 L443.4,280.7 L444.4,281.6 L445.4,282.4 L446.4,283.2 L447.4,284.1 L448.4,284.9 L449.4,285.7 L450.4,286.5 L451.4,287.3 L452.4,288.1 L453.4,288.9 L454.4,289.7 L455.4,290.5 L456.4,291.3 L457.4,292.1 L458.4,292.9 L459.4,293.7 L460.4,294.5 L461.4,295.3 L462.4,296.2 L463.4,297.0 L464.4,297.8 L465.4,298.6 L466.4,299.4 L467.4,300.2 L468.4,301.0 L469.4,301.8 L470.4,302.6 L471.4,303.3 L472.4,304.1 L473.4,304.8 L474.4,305.6 L475.4,306.3 L476.4,307.0 L477.4,307.7 L478.4,308.4 L479.4,309.1 L480.4,309.7 L481.4,310.4 L482.4,311.0 L483.4,311.6 L484.4,312.2 L485.4,312.8 L486.4,313.3 L487.4,313.9 L488.4,314.5 L489.4,315.0 L490.4,315.5 L491.4,316.0 L492.4,316.5 L493.4,317.0 L494.4,317.5 L495.4,318.0 L496.4,318.5 L497.4,319.0 L498.4,319.4 L499.4,319.9 L500.4,320.3 L501.4,320.8 L502.4,321.2 L503.4,321.6 L504.4,322.1 L505.4,322.5 L506.4,322.9 L507.4,323.3 L508.4,323.7 L509.4,324.1 L510.4,324.5 L511.4,324.9 L512.4,325.2 L513.4,325.6 L514.4,326.0 L515.4,326.3 L516.4,326.7 L517.4,327.0 L518.4,327.3 L519.4,327.6 L520.4,328.0 L521.4,328.3 L522.4,328.6 L523.4,328.9 L524.4,329.2 L525.4,329.4 L526.4,329.7 L527.4,330.0 L528.4,330.2 L529.4,330.5 L530.4,330.7 L531.4,330.9 L532.4,331.2 L533.4,331.4 L534.4,331.6 L535.4,331.8 L536.4,332.0 L537.4,332.2 L538.4,332.3 L539.4,332.5 L540.4,332.7 L541.4,332.8 L542.4,333.0 L543.4,333.1 L544.4,333.2 L545.4,333.3 L546.4,333.4 L547.4,333.5 L548.4,333.6 L549.4,333.7 L550.4,333.8 L551.4,333.9 L552.4,334.0 L553.4,334.0 L554.4,334.1 L555.4,334.2 L556.4,334.2 L557.4,334.3 L558.4,334.3 L559.4,334.3 L560.4,334.4 L561.4,334.4 L562.4,334.4 L563.4,334.4 L564.4,334.5 L565.4,334.5 L566.4,334.5 L567.4,334.5 L568.4,334.5 L569.4,334.5 L570.4,334.5 L571.4,334.5 L572.4,334.5 L573.4,334.5 L574.4,334.5 L575.4,334.5 L576.4,334.5 L577.4,334.5 L578.4,334.5 L579.4,334.5 L580.4,334.5 L581.4,334.5 L582.4,334.4 L583.4,334.4 L584.4,334.4 L585.4,334.4 L586.4,334.4 L587.4,334.4 L588.4,334.4 L589.4,334.4 L590.4,334.4 L591.4,334.3 L592.4,334.3 L593.4,334.3 L594.4,334.3 L595.4,334.3 L596.4,334.3 L597.4,334.3 L598.4,334.3 L599.4,334.3 L600.4,334.2 L601.4,334.2 L602.4,334.2 L603.4,334.2 L604.4,334.2 L605.4,334.2 L606.4,334.2 L607.4,334.1 L608.4,334.1 L609.4,334.1 L610.4,334.1 L611.4,334.1 L612.4,334.1 L613.4,334.1 L614.4,334.1 L615.4,334.0 L616.4,334.0 L617.4,334.0 L618.4,334.0 L619.4,334.0 L620.4,334.0 L621.4,334.0 L622.4,333.9 L623.4,333.9 L624.4,333.9 L625.4,333.9 L626.4,333.9 L627.4,333.9 L628.4,333.9 L629.4,333.8 L630.4,333.8 L631.4,333.8 L632.4,333.8"/>
<path stroke="#CC9900" d="M124.4,407.3 L125.4,407.3 L126.4,407.3 L127.4,407.3 L128.4,407.2 L129.4,407.2 L130.4,407.2 L131.4,407.2 L132.4,407.2 L133.4,407.2 L134.4,407.2 L135.4,407.2 L136.4,407.1 L137.4,407.1 L138.4,407.1 L139.4,407.1 L140.4,407.1 L141.4,407.1 L142.4,407.0 L143.4,407.0 L144.4,407.0 L145.4,407.0 L146.4,407.0 L147.4,407.0 L148.4,406.9 L149.4,406.9 L150.4,406.9 L151.4,406.9 L152.4,406.9 L153.4,406.8 L154.4,406.8 L155.4,406.8 L156.4,406.8 L157.4,406.8 L158.4,406.8 L159.4,406.7 L160.4,406.7 L161.4,406.7 L162.4,406.7 L163.4,406.6 L164.4,406.6 L165.4,406.6 L166.4,406.6 L167.4,406.6 L168.4,406.5 L169.4,406.5 L170.4,406.5 L171.4,406.5 L172.4,406.4 L173.4,406.4 L174.4,406.4 L175.4,406.4 L176.4,406.4 L177.4,406.3 L178.4,406.3 L179.4,406.3 L180.4,406.3 L181.4,406.2 L182.4,406.2 L183.4,406.2 L184.4,406.2 L185.4,406.1 L186.4,406.1 L187.4,406.1 L188.4,406.0 L189.4,406.0 L190.4,406.0 L191.4,406.0 L192.4,405.9 L193.4,405.9 L194.4,405.9 L195.4,405.9 L196.4,405.8 L197.4,405.8 L198.4,405.8 L199.4,405.7 L200.4,405.7 L201.4,405.7 L202.4,405.6 L203.4,405.6 L204.4,405.6 L205.4,405.6 L206.4,405.5 L207.4,405.5 L208.4,405.5 L209.4,405.4 L210.4,405.4 L211.4,405.4 L212.4,405.3 L213.4,405.3 L214.4,405.3 L215.4,405.2 L216.4,405.2 L217.4,405.2 L218.4,405.1 L219.4,405.1 L220.4,405.1 L221.4,405.0 L222.4,405.0 L223.4,405.0 L224.4,404.9 L225.4,404.9 L226.4,404.9 L227.4,404.8 L228.4,404.8 L229.4,404.8 L230.4,404.7 L231.4,404.7 L232.4,404.6 L233.4,404.6 L234.4,404.6 L235.4,404.5 L236.4,404.5 L237.4,404.5 L238.4,404.4 L239.4,404.4 L240.4,404.3 L241.4,404.3 L242.4,404.3 L243.4,404.2 L244.4,404.2 L245.4,404.1 L246.4,404.1 L247.4,404.1 L248.4,404.0 L249.4,404.0 L250.4,403.9 L251.4,403.9 L252.4,403.9 L253.4,403.8 L254.4,403.8 L255.4,403.7 L256.4,403.7 L257.4,403.7 L258.4,403.6 L259.4,403.6 L260.4,403.5 L261.4,403.5 L262.4,403.4 L263.4,403.4 L264.4,403.4 L265.4,403.3 L266.4,403.3 L267.4,403.2 L268.4,403.2 L269.4,403.1 L270.4,403.1 L271.4,403.0 L272.4,403.0 L273.4,403.0 L274.4,402.9 L275.4,402.9 L276.4,402.8 L277.4,402.8 L278.4,402.7 L279.4,402.7 L280.4,402.6 L281.4,402.6 L282.4,402.5 L283.4,402.5 L284.4,402.4 L285.4,402.4 L286.4,402.3 L287.4,402.3 L288.4,402.2 L289.4,402.2 L290.4,402.1 L291.4,402.1 L292.4,402.1 L293.4,402.0 L294.4,402.0 L295.4,401.9 L296.4,401.9 L297.4,401.8 L298.4,401.7 L299.4,401.7 L300.4,401.6 L301.4,401.6 L302.4,401.5 L303.4,401.5 L304.4,401.4 L305.4,401.4 L306.4,401.3 L307.4,401.3 L308.4,401.2 L309.4,401.2 L310.4,401.1 L311.4,401.1 L312.4,401.0 L313.4,401.0 L314.4,400.9 L315.4,400.9 L316.4,400.8 L317.4,400.7 L318.4,400.7 L319.4,400.6 L320.4,400.6 L321.4,400.5 L322.4,400.5 L323.4,400.4 L324.4,400.4 L325.4,400.3 L326.4,400.2 L327.4,400.2 L328.4,400.1 L329.4,400.1 L330.4,400.0 L331.4,400.0 L332.4,399.9 L333.4,399.8 L334.4,399.8 L335.4,399.7 L336.4,399.7 L337.4,399.6 L338.4,399.6 L339.4,399.5 L340.4,399.4 L341.4,399.4 L342.4,399.3 L343.4,399.3 L344.4,399.2 L345.4,399.1 L346.4,399.1 L347.4,399.0 L348.4,398.9 L349.4,398.9 L350.4,398.8 L351.4,398.8 L352.4,398.7 L353.4,398.6 L354.4,398.6 L355.4,398.5 L356.4,398.5 L357.4,398.4 L358.4,398.3 L359.4,398.3 L360.4,398.2 L361.4,398.1 L362.4,398.1 L363.4,398.0 L364.4,398.0 L365.4,397.9 L366.4,397.8 L367.4,397.8 L368.4,397.7 L369.4,397.6 L370.4,397.6 L371.4,397.5 L372.4,397.4 L373.4,397.4 L374.4,397.3 L375.4,397.3 L376.4,397.2 L377.4,397.1 L378.4,397.1 L379.4,397.0 L380.4,396.9 L381.4,396.9 L382.4,396.8 L383.4,396.7 L384.4,396.7 L385.4,396.6 L386.4,396.5 L387.4,396.5 L388.4,396.4 L389.4,396.4 L390.4,396.3 L391.4,396.2 L392.4,396.2 L393.4,396.1 L394.4,396.0 L395.4,396.0 L396.4,395.9 L397.4,395.8 L398.4,395.8 L399.4,395.7 L400.4,395.6 L401.4,395.6 L402.4,395.5 L403.4,395.5 L404.4,395.4 L405.4,395.3 L406.4,395.3 L407.4,395.2 L408.4,395.1 L409.4,395.1 L410.4,395.0 L411.4,394.9 L412.4,394.9 L413.4,394.8 L414.4,394.8 L415.4,394.7 L416.4,394.6 L417.4,394.6 L418.4,394.5 L419.4,394.4 L420.4,394.4 L421.4,394.3 L422.4,394.3 L423.4,394.2 L424.4,394.1 L425.4,394.1 L426.4,394.0 L427.4,393.9 L428.4,393.9 L429.4,393.8 L430.4,393.8 L431.4,393.7 L432.4,393.6 L433.4,393.6 L434.4,393.5 L435.4,393.5 L436.4,393.4 L437.4,393.3 L438.4,393.3 L439.4,393.2 L440.4,393.2 L441.4,393.1 L442.4,393.0 L443.4,393.0 L444.4,392.9 L445.4,392.9 L446.4,392.8 L447.4,392.7 L448.4,392.7 L449.4,392.6 L450.4,392.6 L451.4,392.5 L452.4,392.5 L453.4,392.4 L454.4,392.4 L455.4,392.3 L456.4,392.2 L457.4,392.2 L458.4,392.1 L459.4,392.1 L460.4,392.0 L461.4,392.0 L462.4,391.9 L463.4,391.9 L464.4,391.8 L465.4,391.8 L466.4,391.7 L467.4,391.7 L468.4,391.6 L469.4,391.5 L470.4,391.5 L471.4,391.4 L472.4,391.4 L473.4,391.3 L474.4,391.3 L475.4,391.2 L476.4,391.2 L477.4,391.2 L478.4,391.1 L479.4,391.1 L480.4,391.0 L481.4,391.0 L482.4,390.9 L483.4,390.9 L484.4,390.8 L485.4,390.8 L486.4,390.7 L487.4,390.7 L488.4,390.6 L489.4,390.6 L490.4,390.6 L491.4,390.5 L492.4,390.5 L493.4,390.4 L494.4,390.4 L495.4,390.4 L496.4,390.3 L497.4,390.3 L498.4,390.2 L499.4,390.2 L500.4,390.2 L501.4,390.1 L502.4,390.1 L503.4,390.0 L504.4,390.0 L505.4,390.0 L506.4,389.9 L507.4,389.9 L508.4,389.9 L509.4,389.8 L510.4,389.8 L511.4,389.8 L512.4,389.7 L513.4,389.7 L514.4,389.7 L515.4,389.6 L516.4,389.6 L517.4,389.6 L518.4,389.6 L519.4,389.5 L520.4,389.5 L521.4,389.5 L522.4,389.5 L523.4,389.4 L524.4,389.4 L525.4,389.4 L526.4,389.4 L527.4,389.3 L528.4,389.3 L529.4,389.3 L530.4,389.3 L531.4,389.2 L532.4,389.2 L533.4,389.2 L534.4,389.2 L535.4,389.2 L536.4,389.2 L537.4,389.1 L538.4,389.1 L539.4,389.1 L540.4,389.1 L541.4,389.1 L542.4,389.1 L543.4,389.1 L544.4,389.0 L545.4,389.0 L546.4,389.0 L547.4,389.0 L548.4,389.0 L549.4,389.0 L550.4,389.0 L551.4,389.0 L552.4,389.0 L553.4,389.0 L554.4,389.0 L555.4,389.0 L556.4,389.0 L557.4,389.0 L558.4,389.0 L559.4,389.0 L560.4,389.0 L561.4,389.0 L562.4,389.0 L563.4,389.0 L564.4,389.0 L565.4,389.0 L566.4,389.0 L567.4,389.0 L568.4,389.0 L569.4,389.0 L570.4,389.0 L571.4,389.0 L572.4,389.0 L573.4,389.0 L574.4,389.1 L575.4,389.1 L576.4,389.1 L577.4,389.1 L578.4,389.1 L579.4,389.1 L580.4,389.1 L581.4,389.2 L582.4,389.2 L583.4,389.2 L584.4,389.2 L585.4,389.2 L586.4,389.3 L587.4,389.3 L588.4,389.3 L589.4,389.3 L590.4,389.4 L591.4,389.4 L592.4,389.4 L593.4,389.5 L594.4,389.5 L595.4,389.5 L596.4,389.5 L597.4,389.6 L598.4,389.6 L599.4,389.7 L600.4,389.7 L601.4,389.7 L602.4,389.8 L603.4,389.8 L604.4,389.8 L605.4,389.9 L606.4,389.9 L607.4,390.0 L608.4,390.0 L609.4,390.1 L610.4,390.1 L611.4,390.2 L612.4,390.2 L613.4,390.3 L614.4,390.3 L615.4,390.4 L616.4,390.4 L617.4,390.5 L618.4,390.5 L619.4,390.6 L620.4,390.6 L621.4,390.7 L622.4,390.7 L623.4,390.8 L624.4,390.9 L625.4,390.9 L626.4,391.0 L627.4,391.1 L628.4,391.1 L629.4,391.2 L630.4,391.3 L631.4,391.3 L632.4,391.4"/>
</g>
<g stroke="#000" stroke-width="1.5" fill="none">
<path d="M124.0,60.4 V470.1"/>
<path d="M123.4,469.5 H632.8000000000001"/>
<path d="M116.0,469.5 H124.0 M116.0,387.8 H124.0 M116.0,306.1 H124.0 M116.0,224.4 H124.0 M116.0,142.7 H124.0 M116.0,61.0 H124.0 M120.0,428.6 H124.0 M120.0,346.9 H124.0 M120.0,265.2 H124.0 M120.0,183.5 H124.0 M120.0,101.8 H124.0 M124.0,469.5 V477.5 M251.1,469.5 V477.5 M378.1,469.5 V477.5 M505.2,469.5 V477.5 M632.2,469.5 V477.5 M187.5,469.5 V473.5 M314.6,469.5 V473.5 M441.6,469.5 V473.5 M568.7,469.5 V473.5"/>
</g>
<g font-family="'Liberation Serif', serif" font-size="25" fill="#000" text-anchor="end">
<text x="110.4" y="477.9">0.0</text>
<text x="110.4" y="396.2">0.2</text>
<text x="110.4" y="314.5">0.4</text>
<text x="110.4" y="232.8">0.6</text>
<text x="110.4" y="151.1">0.8</text>
<text x="110.4" y="69.4">1.0</text>
</g>
<g font-family="'Liberation Sans', sans-serif" font-size="26.3" fill="#000" text-anchor="middle">
<text x="124.0" y="503.2">10</text>
<text x="251.1" y="503.2">15</text>
<text x="378.1" y="503.2">20</text>
<text x="505.2" y="503.2">25</text>
<text x="632.2" y="503.2">30</text>
</g>
<g font-family="'Liberation Serif', serif" font-size="34.6" fill="#000">
<text x="213.2" y="553.6" textLength="330.5" lengthAdjust="spacingAndGlyphs">Azimuth angle (degree)</text>
<text transform="translate(49.4,338.5) rotate(-90)" textLength="163.5" lengthAdjust="spacingAndGlyphs">Reflectivity</text>
</g>
<rect x="472.4" y="72.4" width="155.7" height="204" fill="#fff" stroke="#000" stroke-width="1"/>
<g font-family="'Liberation Serif', serif" font-size="26.6" fill="#000">
<path d="M476.3,91.0 H537.1" stroke="#515151" stroke-width="5.4" fill="none"/>
<text x="543.6" y="99.6">31.0°p-</text>
<path d="M476.3,124.4 H537.1" stroke="#F14040" stroke-width="5.4" fill="none"/>
<text x="543.6" y="133.0">31.0°s-</text>
<path d="M476.3,157.8 H537.1" stroke="#1A6FDF" stroke-width="5.4" fill="none"/>
<text x="543.6" y="166.4">31.5°p-</text>
<path d="M476.3,191.2 H537.1" stroke="#37AD6B" stroke-width="5.4" fill="none"/>
<text x="543.6" y="199.8">31.5°s-</text>
<path d="M476.3,224.6 H537.1" stroke="#B177DE" stroke-width="5.4" fill="none"/>
<text x="543.6" y="233.2">32.0°p-</text>
<path d="M476.3,258.0 H537.1" stroke="#CC9900" stroke-width="5.4" fill="none"/>
<text x="543.6" y="266.6">32.0°s-</text>
</g>
<g font-family="'Liberation Serif', serif" font-size="30.5" fill="#000" text-anchor="middle">
<text x="363.5" y="620.8">(<tspan font-weight="bold">a</tspan>)</text>
<text x="1104" y="620.8">(<tspan font-weight="bold">b</tspan>)</text>
</g>
<g stroke="#000" stroke-width="2" fill="none">
<path d="M894.9,37.6 V444.6"/>
<path d="M893.9,443.6 H1403.4"/>
<path d="M886.9,443.6 H894.9 M886.9,362.6 H894.9 M886.9,281.6 H894.9 M886.9,200.6 H894.9 M886.9,119.6 H894.9 M886.9,38.6 H894.9 M890.9,403.1 H894.9 M890.9,322.1 H894.9 M890.9,241.1 H894.9 M890.9,160.1 H894.9 M890.9,79.1 H894.9 M894.9,443.6 V451.1 M1021.8,443.6 V451.1 M1148.7,443.6 V451.1 M1275.5,443.6 V451.1 M1402.4,443.6 V451.1 M958.3,443.6 V447.6 M1085.2,443.6 V447.6 M1212.1,443.6 V447.6 M1339.0,443.6 V447.6"/>
</g>
<clipPath id="rc"><rect x="894.3" y="20" width="507.29999999999995" height="423.6"/></clipPath>
<defs>
<marker id="mk" markerUnits="userSpaceOnUse" markerWidth="12" markerHeight="12" refX="6" refY="6" orient="0"><rect x="1" y="0.75" width="10" height="10.5" fill="#000"/></marker>
<marker id="mr" markerUnits="userSpaceOnUse" markerWidth="12" markerHeight="12" refX="6" refY="6" orient="0"><circle cx="6" cy="6" r="5.3" fill="#f00"/></marker>
<marker id="mb" markerUnits="userSpaceOnUse" markerWidth="14" markerHeight="14" refX="7" refY="7" orient="0"><path d="M7,1.4 L13.6,11.4 H0.4z" fill="#00f"/></marker>
</defs>
<g clip-path="url(#rc)" fill="none" stroke-width="2">
<polyline stroke="#000" marker-start="url(#mk)" marker-mid="url(#mk)" marker-end="url(#mk)" points="894.4,109.0 895.0,108.2 895.7,109.4 896.3,109.5 897.0,109.9 897.6,110.4 898.3,110.3 898.9,111.2 899.6,111.4 900.2,112.9 900.9,112.6 901.5,112.8 902.2,113.3 902.8,113.6 903.5,114.0 904.1,114.6 904.8,115.3 905.4,115.6 906.1,116.3 906.7,116.5 907.4,117.1 908.0,117.9 908.7,118.2 909.3,118.4 910.0,119.0 910.6,119.7 911.3,120.6 911.9,120.5 912.6,121.1 913.2,121.9 913.9,122.0 914.5,122.7 915.2,123.6 915.8,124.1 916.5,124.5 917.1,125.2 917.8,125.0 918.4,126.5 919.1,126.6 919.7,127.1 920.4,128.2 921.0,128.9 921.7,129.3 922.3,129.8 923.0,130.7 923.6,131.4 924.3,132.4 924.9,132.9 925.6,133.5 926.2,134.4 926.9,134.8 927.5,135.4 928.2,136.5 928.8,137.2 929.5,137.8 930.1,138.4 930.8,139.5 931.4,139.6 932.1,141.2 932.7,142.0 933.4,142.3 934.0,143.6 934.7,144.2 935.3,145.5 936.0,145.7 936.6,146.9 937.3,148.2 937.9,149.2 938.6,149.3 939.2,150.7 939.9,151.9 940.5,152.6 941.2,154.2 941.8,154.5 942.5,155.9 943.1,156.6 943.8,158.3 944.4,159.0 945.1,160.0 945.7,160.8 946.4,162.7 947.0,163.6 947.7,164.8 948.3,166.0 949.0,167.0 949.6,168.0 950.3,169.1 950.9,170.4 951.6,172.1 952.2,172.7 952.9,174.2 953.5,175.5 954.2,177.0 954.8,178.4 955.5,179.3 956.1,180.6 956.8,182.5 957.4,184.3 958.1,185.7 958.7,187.1 959.4,188.7 960.0,190.6 960.7,192.2 961.3,194.4 962.0,196.0 962.6,198.4 963.3,200.6 963.9,203.2 964.6,205.6 965.2,208.8 965.9,211.4 966.5,214.3 967.2,216.5 967.8,220.2 968.5,223.6 969.1,227.6 969.8,231.1 970.4,236.6 971.1,241.8 971.7,247.3 972.4,254.4 973.0,262.6 973.7,271.9 974.3,281.3 975.0,290.2 975.6,297.3 976.3,304.4 976.9,310.9 977.6,317.7 978.2,323.9 978.9,330.6 979.5,336.7 980.2,343.5 980.8,349.4 981.5,355.6 982.1,360.3 982.8,364.3 983.4,368.0 984.1,371.5 984.7,374.2 985.4,376.8 986.0,379.6 986.7,382.4 987.3,383.8 988.0,385.7 988.6,387.3 989.3,389.0 989.9,391.0 990.6,392.5 991.2,393.7 991.9,395.0 992.5,396.1 993.2,397.2 993.8,397.8 994.5,399.0 995.1,400.0 995.8,400.6 996.4,401.5 997.1,402.2 997.7,403.0 998.4,404.0 999.0,404.4 999.7,405.1 1000.3,406.0 1001.0,406.6 1001.6,407.4 1002.3,407.1 1002.9,408.4 1003.6,408.6 1004.2,409.3 1004.9,410.0 1005.5,410.6 1006.2,411.1 1006.8,411.4 1007.5,412.2 1008.1,412.3 1008.8,412.8 1009.4,413.5 1010.1,413.6 1010.7,414.7 1011.4,414.9 1012.0,415.6 1012.7,415.5 1013.3,415.9 1014.0,416.4 1014.6,417.0 1015.3,417.0 1015.9,417.7 1016.6,418.0 1017.2,418.8 1017.9,418.6 1018.5,419.4 1019.2,419.3 1019.8,419.6 1020.5,420.0 1021.1,420.2 1021.8,420.8 1022.4,421.4 1023.1,421.5 1023.7,421.9 1024.4,422.4 1025.0,422.4 1025.7,422.7 1026.3,422.8 1027.0,422.7 1027.6,423.6 1028.3,423.2 1028.9,424.1 1029.6,424.1 1030.2,424.7 1030.9,424.6 1031.5,424.6 1032.2,425.1 1032.8,425.1 1033.5,425.4 1034.1,425.7 1034.8,425.8 1035.4,426.0 1036.1,426.0 1036.7,426.4 1037.4,426.0 1038.0,426.7 1038.7,426.6 1039.3,427.4 1040.0,427.5 1040.6,426.9 1041.3,427.6 1041.9,427.6 1042.6,427.5 1043.2,428.1 1043.9,428.0 1044.5,427.7 1045.2,428.2 1045.8,428.4 1046.5,428.6 1047.1,428.3 1047.8,428.9 1048.4,429.0 1049.1,428.7 1049.7,428.9 1050.4,429.1 1051.0,429.1 1051.7,429.8 1052.3,429.5 1053.0,429.2 1053.6,429.4 1054.3,429.6 1054.9,430.3 1055.6,429.7 1056.2,429.9 1056.9,430.0 1057.5,429.9 1058.2,430.6 1058.8,429.9 1059.5,430.3 1060.1,430.2 1060.8,430.4 1061.4,430.0 1062.1,430.7 1062.7,430.3 1063.4,430.4 1064.0,430.2 1064.7,430.3 1065.3,430.6 1066.0,430.8 1066.6,430.7 1067.3,430.9 1067.9,430.8 1068.6,430.6 1069.2,430.8 1069.9,430.8 1070.5,430.6 1071.2,430.8 1071.8,431.0 1072.5,430.7 1073.1,430.6 1073.8,430.8 1074.4,431.1 1075.1,430.6 1075.7,430.6 1076.4,430.6 1077.0,430.9 1077.7,430.1 1078.3,430.6 1079.0,430.8 1079.6,430.2 1080.3,430.8 1080.9,430.5 1081.6,430.2 1082.2,430.3 1082.9,429.8 1083.5,430.0 1084.2,430.5 1084.8,429.8 1085.5,430.4 1086.1,429.8 1086.8,430.0 1087.4,429.7 1088.1,429.1 1088.7,429.4 1089.4,429.5 1090.0,429.1 1090.7,429.0 1091.3,429.3 1092.0,429.0 1092.6,428.6 1093.3,428.8 1093.9,429.1 1094.6,428.6 1095.2,428.9 1095.9,428.9 1096.5,428.5 1097.2,428.1 1097.8,427.9 1098.5,428.1 1099.1,428.2 1099.8,428.0 1100.4,427.9 1101.1,427.6 1101.7,427.6 1102.4,427.3 1103.0,427.2 1103.7,426.8 1104.3,426.6 1105.0,426.7 1105.6,426.4 1106.3,426.3 1106.9,426.6 1107.6,426.2 1108.2,426.8 1108.9,426.1 1109.5,425.6 1110.2,425.7 1110.8,425.5 1111.5,425.0 1112.1,425.3 1112.8,424.6 1113.4,423.9 1114.1,424.6 1114.7,424.1 1115.4,424.4 1116.0,423.7 1116.7,423.3 1117.3,423.8 1118.0,422.9 1118.6,423.0 1119.3,423.1 1119.9,422.5 1120.6,422.3 1121.2,422.1 1121.9,422.0 1122.5,421.4 1123.2,421.5 1123.8,421.3 1124.5,421.5 1125.1,420.6 1125.8,420.2 1126.4,420.4 1127.1,419.8 1127.7,419.8 1128.4,419.5 1129.0,419.5 1129.7,418.8 1130.3,418.7 1131.0,417.8 1131.6,417.9 1132.3,418.3 1132.9,417.5 1133.6,417.2 1134.2,416.8 1134.9,417.0 1135.5,416.7 1136.2,416.1 1136.8,416.3 1137.5,415.9 1138.1,415.8 1138.8,415.2 1139.4,415.5 1140.1,414.9 1140.7,414.5 1141.4,414.2 1142.0,414.0 1142.7,414.0 1143.3,413.4 1144.0,413.5 1144.6,413.1 1145.3,413.1 1145.9,412.7 1146.6,412.2 1147.2,411.4 1147.9,411.7 1148.5,411.6 1149.2,411.1 1149.8,411.0 1150.5,410.4 1151.1,410.2 1151.8,409.8 1152.4,410.1 1153.1,409.5 1153.7,409.0 1154.4,408.6 1155.0,408.6 1155.7,408.7 1156.3,408.1 1157.0,407.6 1157.6,407.8 1158.3,407.5 1158.9,407.1 1159.6,406.8 1160.2,406.6 1160.9,406.1 1161.5,405.9 1162.2,405.2 1162.8,405.4 1163.5,404.8 1164.1,405.0 1164.8,403.6 1165.4,404.0 1166.1,403.8 1166.7,403.1 1167.4,403.0 1168.0,402.8 1168.7,402.4 1169.3,401.8 1170.0,401.6 1170.6,401.5 1171.3,401.3 1171.9,400.7 1172.6,400.3 1173.2,400.0 1173.9,399.9 1174.5,399.0 1175.2,398.6 1175.8,398.7 1176.5,398.0 1177.1,397.8 1177.8,397.6 1178.4,397.4 1179.1,396.7 1179.7,396.8 1180.4,395.8 1181.0,396.0 1181.7,395.1 1182.3,394.8 1183.0,395.0 1183.6,394.3 1184.3,393.9 1184.9,393.6 1185.6,393.5 1186.2,393.0 1186.9,392.6 1187.5,392.5 1188.2,391.7 1188.8,391.4 1189.5,391.0 1190.1,391.0 1190.8,390.6 1191.4,390.3 1192.1,389.5 1192.7,389.1 1193.4,389.0 1194.0,388.3 1194.7,388.2 1195.3,387.8 1196.0,387.0 1196.6,386.8 1197.3,386.3 1197.9,386.4 1198.6,386.2 1199.2,385.1 1199.9,384.7 1200.5,383.7 1201.2,383.9 1201.8,383.5 1202.5,382.8 1203.1,382.8 1203.8,381.8 1204.4,381.7 1205.1,381.3 1205.7,380.6 1206.4,380.7 1207.0,380.3 1207.7,379.2 1208.3,378.8 1209.0,378.8 1209.6,378.2 1210.3,377.4 1210.9,377.2 1211.6,376.8 1212.2,376.3 1212.9,376.1 1213.5,375.5 1214.2,375.4 1214.8,374.8 1215.5,374.2 1216.1,373.8 1216.8,373.4 1217.4,372.7 1218.1,371.8 1218.7,371.8 1219.4,371.1 1220.0,371.0 1220.7,370.1 1221.3,369.7 1222.0,369.1 1222.6,369.0 1223.3,368.1 1223.9,367.4 1224.6,367.1 1225.2,366.4 1225.9,366.0 1226.5,365.4 1227.2,365.0 1227.8,364.8 1228.5,363.7 1229.1,363.3 1229.8,362.7 1230.4,362.4 1231.1,361.4 1231.7,361.0 1232.4,360.6 1233.0,360.2 1233.7,359.5 1234.3,358.8 1235.0,358.2 1235.6,358.0 1236.3,357.7 1236.9,356.8 1237.6,356.2 1238.2,355.7 1238.9,354.8 1239.5,354.4 1240.2,353.9 1240.8,353.5 1241.5,352.8 1242.1,352.0 1242.8,352.0 1243.4,351.6 1244.1,350.5 1244.7,350.1 1245.4,349.5 1246.0,349.1 1246.7,348.0 1247.3,348.2 1248.0,347.1 1248.6,347.0 1249.3,346.2 1249.9,345.5 1250.6,345.0 1251.2,344.7 1251.9,343.7 1252.5,343.3 1253.2,342.7 1253.8,341.8 1254.5,342.0 1255.1,341.3 1255.8,340.6 1256.4,340.4 1257.1,339.3 1257.7,339.0 1258.4,338.9 1259.0,338.2 1259.7,336.9 1260.3,336.1 1261.0,336.1 1261.6,336.1 1262.3,335.2 1262.9,334.7 1263.6,334.4 1264.2,333.5 1264.9,333.3 1265.5,332.9 1266.2,332.4 1266.8,331.8 1267.5,331.1 1268.1,330.9 1268.8,330.1 1269.4,330.1 1270.1,329.9 1270.7,328.6 1271.4,327.8 1272.0,327.7 1272.7,327.5 1273.3,327.2 1274.0,326.7 1274.6,325.8 1275.3,325.3 1275.9,325.4 1276.6,324.3 1277.2,324.4 1277.9,323.7 1278.5,323.5 1279.2,323.0 1279.8,322.6 1280.5,322.2 1281.1,321.3 1281.8,321.2 1282.4,320.7 1283.1,320.4 1283.7,320.2 1284.4,319.4 1285.0,318.9 1285.7,318.5 1286.3,318.2 1287.0,318.1 1287.6,317.3 1288.3,317.4 1288.9,316.8 1289.6,316.3 1290.2,315.7 1290.9,315.7 1291.5,315.4 1292.2,314.5 1292.8,314.8 1293.5,314.6 1294.1,313.9 1294.8,313.6 1295.4,313.7 1296.1,313.0 1296.7,312.2 1297.4,312.0 1298.0,311.6 1298.7,311.3 1299.3,310.4 1300.0,310.9 1300.6,310.2 1301.3,310.0 1301.9,309.6 1302.6,309.5 1303.2,308.9 1303.9,308.5 1304.5,308.5 1305.2,308.4 1305.8,307.6 1306.5,307.7 1307.1,307.1 1307.8,306.6 1308.4,306.8 1309.1,305.9 1309.7,306.0 1310.4,305.3 1311.0,305.3 1311.7,304.5 1312.3,304.3 1313.0,304.5 1313.6,303.9 1314.3,303.6 1314.9,303.2 1315.6,303.1 1316.2,302.3 1316.9,302.1 1317.5,302.0 1318.2,301.6 1318.8,301.3 1319.5,301.2 1320.1,300.9 1320.8,300.6 1321.4,300.8 1322.1,300.4 1322.7,300.2 1323.4,299.6 1324.0,299.3 1324.7,298.8 1325.3,298.9 1326.0,298.3 1326.6,298.5 1327.3,298.6 1327.9,298.7 1328.6,298.4 1329.2,297.8 1329.9,298.0 1330.5,297.5 1331.2,297.8 1331.8,297.5 1332.5,297.6 1333.1,298.0 1333.8,297.5 1334.4,297.8 1335.1,297.2 1335.7,297.0 1336.4,297.4 1337.0,297.4 1337.7,296.8 1338.3,296.9 1339.0,296.5 1339.6,296.8 1340.3,297.1 1340.9,296.8 1341.6,296.7 1342.2,296.5 1342.9,296.9 1343.5,297.0 1344.2,297.0 1344.8,296.9 1345.5,296.5 1346.1,297.3 1346.8,296.8 1347.4,296.8 1348.1,297.1 1348.7,296.4 1349.4,296.9 1350.0,296.9 1350.7,297.0 1351.3,297.3 1352.0,297.1 1352.6,296.5 1353.3,296.9 1353.9,297.1 1354.6,297.1 1355.2,296.8 1355.9,296.7 1356.5,297.3 1357.2,297.2 1357.8,297.2 1358.5,296.8 1359.1,297.7 1359.8,296.5 1360.4,297.2 1361.1,297.8 1361.7,297.3 1362.4,297.4 1363.0,297.0 1363.7,297.7 1364.3,297.1 1365.0,297.5 1365.6,297.5 1366.3,297.2 1366.9,297.7 1367.6,297.1 1368.2,297.3 1368.9,297.5 1369.5,297.5 1370.2,297.7 1370.8,297.8 1371.5,297.5 1372.1,297.5 1372.8,297.5 1373.4,297.6 1374.1,297.9 1374.7,297.7 1375.4,297.8 1376.0,297.7 1376.7,297.6 1377.3,298.0 1378.0,297.6 1378.6,297.8 1379.3,298.2 1379.9,297.6 1380.6,297.9 1381.2,297.5 1381.9,297.8 1382.5,297.6 1383.2,297.9 1383.8,297.9 1384.5,298.1 1385.1,298.5 1385.8,298.2 1386.4,298.3 1387.1,298.2 1387.7,298.1 1388.4,298.0 1389.0,297.8 1389.7,298.3 1390.3,298.8 1391.0,298.5 1391.6,298.3 1392.3,298.9 1392.9,298.4 1393.6,298.5 1394.2,298.4 1394.9,298.5 1395.5,298.7 1396.2,299.4 1396.8,298.9 1397.5,298.8 1398.1,298.9 1398.8,299.1 1399.4,298.8 1400.1,299.4 1400.7,299.6 1401.4,299.6 1402.0,299.8 1402.4,299.4"/>
<polyline stroke="#f00" marker-start="url(#mr)" marker-mid="url(#mr)" marker-end="url(#mr)" points="894.4,55.0 895.0,56.5 895.7,56.5 896.3,55.3 897.0,56.3 897.6,56.3 898.3,56.6 898.9,56.5 899.6,56.3 900.2,56.7 900.9,56.8 901.5,56.7 902.2,55.9 902.8,55.4 903.5,56.6 904.1,56.3 904.8,57.3 905.4,57.6 906.1,57.4 906.7,57.2 907.4,57.5 908.0,58.1 908.7,57.2 909.3,58.1 910.0,58.0 910.6,57.9 911.3,58.5 911.9,57.5 912.6,58.4 913.2,57.5 913.9,57.7 914.5,57.6 915.2,58.4 915.8,57.7 916.5,58.3 917.1,57.7 917.8,58.9 918.4,59.3 919.1,58.6 919.7,59.3 920.4,58.8 921.0,59.7 921.7,58.7 922.3,57.9 923.0,59.5 923.6,58.7 924.3,58.3 924.9,58.5 925.6,58.1 926.2,58.9 926.9,58.5 927.5,59.8 928.2,59.4 928.8,58.3 929.5,58.4 930.1,58.9 930.8,58.3 931.4,59.2 932.1,59.3 932.7,59.0 933.4,59.2 934.0,59.7 934.7,60.2 935.3,60.3 936.0,59.6 936.6,60.1 937.3,59.3 937.9,59.9 938.6,59.3 939.2,60.2 939.9,59.2 940.5,59.4 941.2,59.9 941.8,60.2 942.5,59.3 943.1,59.8 943.8,60.2 944.4,60.3 945.1,59.8 945.7,60.3 946.4,60.1 947.0,61.0 947.7,60.7 948.3,59.8 949.0,59.4 949.6,60.6 950.3,61.2 950.9,60.7 951.6,61.1 952.2,60.5 952.9,60.1 953.5,61.2 954.2,60.9 954.8,61.3 955.5,60.3 956.1,61.1 956.8,60.8 957.4,61.6 958.1,60.9 958.7,61.0 959.4,61.1 960.0,62.1 960.7,61.5 961.3,61.2 962.0,61.1 962.6,61.2 963.3,62.5 963.9,60.9 964.6,61.5 965.2,62.3 965.9,62.6 966.5,62.1 967.2,62.6 967.8,62.7 968.5,62.9 969.1,62.5 969.8,63.4 970.4,62.7 971.1,63.5 971.7,62.3 972.4,63.4 973.0,62.4 973.7,62.4 974.3,63.5 975.0,62.9 975.6,63.6 976.3,63.0 976.9,64.4 977.6,63.7 978.2,63.3 978.9,64.0 979.5,64.5 980.2,63.8 980.8,64.6 981.5,65.4 982.1,65.0 982.8,64.7 983.4,64.5 984.1,65.2 984.7,64.3 985.4,63.7 986.0,65.0 986.7,64.9 987.3,66.5 988.0,65.8 988.6,65.4 989.3,65.5 989.9,66.5 990.6,66.0 991.2,66.3 991.9,66.7 992.5,66.9 993.2,67.1 993.8,67.3 994.5,68.0 995.1,68.4 995.8,66.9 996.4,69.2 997.1,68.2 997.7,68.9 998.4,68.1 999.0,68.9 999.7,69.0 1000.3,69.2 1001.0,69.7 1001.6,69.8 1002.3,69.2 1002.9,69.9 1003.6,70.5 1004.2,70.7 1004.9,70.4 1005.5,70.7 1006.2,71.0 1006.8,70.7 1007.5,70.9 1008.1,72.6 1008.8,71.8 1009.4,72.3 1010.1,72.2 1010.7,73.4 1011.4,73.9 1012.0,73.2 1012.7,73.8 1013.3,73.5 1014.0,75.0 1014.6,74.9 1015.3,74.3 1015.9,75.6 1016.6,75.5 1017.2,75.8 1017.9,76.1 1018.5,75.9 1019.2,76.2 1019.8,77.1 1020.5,77.1 1021.1,77.0 1021.8,78.8 1022.4,78.0 1023.1,78.2 1023.7,78.4 1024.4,79.5 1025.0,80.0 1025.7,80.0 1026.3,80.7 1027.0,79.8 1027.6,80.8 1028.3,81.1 1028.9,81.7 1029.6,82.4 1030.2,81.5 1030.9,84.5 1031.5,82.9 1032.2,83.9 1032.8,84.6 1033.5,85.0 1034.1,85.1 1034.8,84.0 1035.4,85.4 1036.1,86.7 1036.7,86.3 1037.4,86.7 1038.0,86.6 1038.7,88.8 1039.3,89.0 1040.0,88.8 1040.6,89.6 1041.3,90.2 1041.9,90.2 1042.6,91.1 1043.2,91.9 1043.9,92.6 1044.5,93.6 1045.2,93.5 1045.8,93.8 1046.5,94.9 1047.1,94.9 1047.8,95.2 1048.4,97.1 1049.1,96.9 1049.7,97.8 1050.4,98.7 1051.0,98.5 1051.7,100.1 1052.3,100.7 1053.0,101.2 1053.6,102.1 1054.3,102.3 1054.9,102.4 1055.6,104.1 1056.2,104.6 1056.9,106.3 1057.5,106.9 1058.2,107.4 1058.8,108.6 1059.5,110.1 1060.1,111.0 1060.8,111.6 1061.4,112.7 1062.1,113.4 1062.7,114.5 1063.4,116.0 1064.0,116.8 1064.7,118.2 1065.3,118.7 1066.0,119.6 1066.6,120.8 1067.3,122.7 1067.9,124.8 1068.6,126.0 1069.2,126.2 1069.9,127.2 1070.5,129.6 1071.2,130.7 1071.8,131.1 1072.5,133.6 1073.1,134.4 1073.8,136.3 1074.4,137.1 1075.1,138.7 1075.7,139.8 1076.4,140.5 1077.0,142.2 1077.7,143.4 1078.3,145.6 1079.0,146.1 1079.6,147.3 1080.3,149.9 1080.9,151.7 1081.6,153.4 1082.2,154.8 1082.9,155.2 1083.5,157.4 1084.2,159.3 1084.8,161.4 1085.5,162.3 1086.1,165.4 1086.8,167.7 1087.4,169.4 1088.1,172.3 1088.7,175.3 1089.4,177.4 1090.0,180.7 1090.7,183.6 1091.3,186.5 1092.0,189.9 1092.6,193.2 1093.3,198.0 1093.9,201.6 1094.6,206.3 1095.2,212.3 1095.9,217.4 1096.5,224.4 1097.2,231.6 1097.8,238.3 1098.5,245.6 1099.1,253.0 1099.8,259.5 1100.4,264.8 1101.1,271.1 1101.7,278.7 1102.4,284.4 1103.0,289.4 1103.7,296.3 1104.3,303.8 1105.0,310.5 1105.6,318.8 1106.3,325.7 1106.9,332.0 1107.6,336.2 1108.2,341.4 1108.9,345.8 1109.5,347.6 1110.2,351.6 1110.8,354.1 1111.5,356.5 1112.1,358.6 1112.8,360.3 1113.4,362.7 1114.1,365.6 1114.7,367.8 1115.4,370.0 1116.0,371.8 1116.7,373.7 1117.3,375.0 1118.0,376.5 1118.6,379.0 1119.3,381.0 1119.9,382.5 1120.6,383.3 1121.2,385.4 1121.9,386.4 1122.5,388.6 1123.2,389.4 1123.8,391.1 1124.5,392.6 1125.1,393.6 1125.8,395.4 1126.4,395.2 1127.1,395.7 1127.7,398.3 1128.4,399.4 1129.0,400.4 1129.7,400.7 1130.3,401.7 1131.0,402.4 1131.6,402.5 1132.3,403.7 1132.9,405.0 1133.6,405.2 1134.2,407.2 1134.9,406.2 1135.5,407.5 1136.2,409.0 1136.8,408.8 1137.5,409.2 1138.1,409.8 1138.8,410.7 1139.4,412.5 1140.1,412.5 1140.7,413.2 1141.4,413.3 1142.0,414.5 1142.7,414.7 1143.3,414.8 1144.0,415.5 1144.6,416.4 1145.3,417.4 1145.9,417.3 1146.6,418.1 1147.2,419.3 1147.9,418.4 1148.5,418.6 1149.2,420.2 1149.8,420.4 1150.5,420.5 1151.1,421.1 1151.8,421.3 1152.4,422.1 1153.1,422.1 1153.7,423.0 1154.4,422.4 1155.0,422.9 1155.7,423.8 1156.3,423.8 1157.0,424.7 1157.6,424.7 1158.3,424.8 1158.9,425.4 1159.6,425.4 1160.2,425.1 1160.9,425.6 1161.5,426.1 1162.2,426.5 1162.8,427.0 1163.5,427.7 1164.1,427.7 1164.8,428.6 1165.4,428.5 1166.1,428.0 1166.7,429.1 1167.4,429.1 1168.0,428.4 1168.7,429.0 1169.3,429.5 1170.0,429.3 1170.6,429.8 1171.3,429.6 1171.9,429.9 1172.6,429.5 1173.2,430.0 1173.9,429.7 1174.5,430.3 1175.2,429.2 1175.8,430.3 1176.5,430.8 1177.1,430.6 1177.8,430.3 1178.4,430.7 1179.1,430.0 1179.7,430.1 1180.4,430.3 1181.0,430.5 1181.7,431.1 1182.3,430.2 1183.0,431.1 1183.6,429.8 1184.3,430.2 1184.9,430.6 1185.6,431.2 1186.2,430.3 1186.9,429.5 1187.5,430.8 1188.2,430.5 1188.8,430.0 1189.5,430.0 1190.1,430.1 1190.8,430.4 1191.4,430.7 1192.1,429.5 1192.7,431.4 1193.4,430.1 1194.0,429.9 1194.7,430.4 1195.3,430.0 1196.0,431.0 1196.6,430.3 1197.3,429.5 1197.9,429.4 1198.6,429.3 1199.2,429.3 1199.9,429.7 1200.5,428.9 1201.2,429.9 1201.8,429.0 1202.5,428.8 1203.1,429.2 1203.8,427.6 1204.4,428.0 1205.1,428.7 1205.7,428.2 1206.4,428.1 1207.0,428.2 1207.7,427.5 1208.3,427.6 1209.0,426.8 1209.6,426.4 1210.3,427.8 1210.9,426.6 1211.6,426.5 1212.2,427.4 1212.9,427.1 1213.5,426.1 1214.2,426.0 1214.8,426.0 1215.5,425.4 1216.1,426.0 1216.8,425.6 1217.4,425.4 1218.1,425.5 1218.7,425.3 1219.4,425.7 1220.0,425.3 1220.7,423.5 1221.3,424.6 1222.0,423.4 1222.6,423.1 1223.3,424.0 1223.9,423.1 1224.6,423.0 1225.2,423.5 1225.9,422.5 1226.5,422.1 1227.2,422.5 1227.8,422.8 1228.5,422.2 1229.1,421.0 1229.8,421.2 1230.4,421.2 1231.1,422.0 1231.7,421.3 1232.4,421.1 1233.0,421.0 1233.7,420.0 1234.3,420.2 1235.0,419.9 1235.6,418.9 1236.3,419.2 1236.9,419.2 1237.6,418.1 1238.2,418.8 1238.9,418.5 1239.5,418.3 1240.2,417.1 1240.8,417.3 1241.5,417.7 1242.1,417.0 1242.8,415.9 1243.4,416.1 1244.1,416.4 1244.7,415.3 1245.4,415.1 1246.0,415.9 1246.7,414.2 1247.3,413.8 1248.0,413.0 1248.6,412.7 1249.3,413.4 1249.9,412.2 1250.6,411.2 1251.2,411.0 1251.9,411.0 1252.5,410.9 1253.2,409.8 1253.8,410.1 1254.5,409.0 1255.1,409.0 1255.8,408.6 1256.4,408.2 1257.1,407.3 1257.7,406.9 1258.4,406.8 1259.0,405.5 1259.7,405.8 1260.3,405.5 1261.0,405.3 1261.6,404.4 1262.3,403.9 1262.9,403.6 1263.6,402.7 1264.2,402.6 1264.9,402.5 1265.5,402.0 1266.2,401.0 1266.8,400.9 1267.5,399.7 1268.1,400.7 1268.8,399.7 1269.4,399.7 1270.1,398.7 1270.7,398.9 1271.4,398.8 1272.0,398.8 1272.7,397.3 1273.3,398.1 1274.0,397.3 1274.6,396.7 1275.3,397.1 1275.9,396.4 1276.6,396.2 1277.2,395.7 1277.9,396.0 1278.5,395.7 1279.2,395.4 1279.8,394.8 1280.5,394.8 1281.1,395.1 1281.8,395.4 1282.4,394.6 1283.1,395.2 1283.7,394.3 1284.4,393.6 1285.0,394.4 1285.7,393.5 1286.3,394.0 1287.0,394.3 1287.6,393.5 1288.3,393.5 1288.9,394.7 1289.6,393.5 1290.2,393.4 1290.9,393.6 1291.5,393.1 1292.2,393.0 1292.8,393.2 1293.5,391.7 1294.1,393.5 1294.8,392.2 1295.4,392.2 1296.1,392.9 1296.7,392.6 1297.4,391.9 1298.0,392.5 1298.7,391.8 1299.3,391.9 1300.0,391.5 1300.6,391.7 1301.3,392.3 1301.9,392.0 1302.6,392.0 1303.2,392.3 1303.9,391.7 1304.5,391.3 1305.2,391.4 1305.8,392.2 1306.5,391.3 1307.1,391.3 1307.8,391.0 1308.4,391.0 1309.1,391.0 1309.7,390.6 1310.4,390.4 1311.0,389.9 1311.7,389.7 1312.3,390.1 1313.0,390.1 1313.6,390.0 1314.3,389.3 1314.9,388.6 1315.6,389.1 1316.2,388.9 1316.9,387.6 1317.5,388.5 1318.2,388.1 1318.8,388.4 1319.5,386.7 1320.1,386.3 1320.8,387.1 1321.4,385.5 1322.1,385.7 1322.7,385.2 1323.4,384.9 1324.0,384.2 1324.7,384.7 1325.3,384.9 1326.0,384.3 1326.6,384.0 1327.3,383.2 1327.9,383.8 1328.6,383.0 1329.2,382.9 1329.9,381.3 1330.5,381.8 1331.2,380.8 1331.8,381.1 1332.5,380.7 1333.1,379.7 1333.8,380.0 1334.4,380.1 1335.1,379.5 1335.7,379.1 1336.4,378.1 1337.0,377.8 1337.7,377.3 1338.3,377.5 1339.0,377.7 1339.6,377.0 1340.3,376.5 1340.9,375.6 1341.6,376.0 1342.2,375.3 1342.9,374.2 1343.5,373.9 1344.2,374.3 1344.8,373.7 1345.5,374.6 1346.1,373.5 1346.8,372.6 1347.4,372.6 1348.1,373.3 1348.7,371.7 1349.4,372.3 1350.0,371.8 1350.7,372.0 1351.3,371.2 1352.0,370.4 1352.6,370.6 1353.3,370.0 1353.9,370.1 1354.6,369.3 1355.2,370.0 1355.9,368.7 1356.5,368.6 1357.2,367.8 1357.8,367.9 1358.5,367.5 1359.1,367.3 1359.8,367.3 1360.4,366.3 1361.1,365.8 1361.7,366.5 1362.4,365.5 1363.0,365.0 1363.7,365.6 1364.3,365.1 1365.0,363.1 1365.6,364.0 1366.3,364.3 1366.9,364.0 1367.6,363.0 1368.2,363.8 1368.9,362.3 1369.5,362.3 1370.2,362.2 1370.8,361.8 1371.5,361.9 1372.1,361.8 1372.8,361.0 1373.4,361.4 1374.1,360.1 1374.7,360.0 1375.4,360.7 1376.0,359.6 1376.7,359.8 1377.3,358.8 1378.0,358.6 1378.6,358.4 1379.3,358.3 1379.9,357.8 1380.6,357.7 1381.2,357.8 1381.9,357.8 1382.5,356.9 1383.2,357.0 1383.8,356.8 1384.5,355.6 1385.1,355.1 1385.8,356.4 1386.4,356.0 1387.1,355.1 1387.7,355.0 1388.4,354.2 1389.0,353.7 1389.7,354.3 1390.3,353.2 1391.0,354.1 1391.6,353.1 1392.3,353.3 1392.9,353.9 1393.6,353.7 1394.2,352.4 1394.9,352.8 1395.5,351.5 1396.2,351.5 1396.8,351.8 1397.5,352.1 1398.1,350.9 1398.8,351.2 1399.4,350.8 1400.1,349.9 1400.7,350.3 1401.4,350.9 1402.0,349.9 1402.4,350.1"/>
<polyline stroke="#00f" marker-start="url(#mb)" marker-mid="url(#mb)" marker-end="url(#mb)" points="894.4,48.6 895.0,47.1 895.7,48.9 896.3,49.1 897.0,49.2 897.6,48.9 898.3,47.3 898.9,47.2 899.6,47.0 900.2,46.8 900.9,46.9 901.5,48.5 902.2,48.9 902.8,47.0 903.5,48.3 904.1,46.4 904.8,47.2 905.4,46.6 906.1,46.0 906.7,47.5 907.4,47.5 908.0,47.0 908.7,46.9 909.3,46.4 910.0,47.2 910.6,46.7 911.3,47.4 911.9,46.1 912.6,47.4 913.2,47.6 913.9,48.2 914.5,48.0 915.2,47.2 915.8,46.4 916.5,45.4 917.1,47.0 917.8,48.2 918.4,48.4 919.1,44.6 919.7,46.2 920.4,46.5 921.0,45.9 921.7,47.0 922.3,46.8 923.0,46.3 923.6,46.7 924.3,45.3 924.9,45.8 925.6,45.8 926.2,47.4 926.9,45.1 927.5,46.4 928.2,47.2 928.8,46.4 929.5,47.2 930.1,45.8 930.8,46.8 931.4,47.2 932.1,48.4 932.7,47.0 933.4,47.6 934.0,46.3 934.7,46.3 935.3,47.6 936.0,46.7 936.6,47.4 937.3,46.8 937.9,48.0 938.6,48.2 939.2,45.3 939.9,47.7 940.5,46.4 941.2,46.4 941.8,45.8 942.5,46.5 943.1,44.9 943.8,45.2 944.4,45.1 945.1,46.0 945.7,46.6 946.4,46.4 947.0,46.0 947.7,45.1 948.3,44.0 949.0,46.0 949.6,45.7 950.3,45.9 950.9,46.8 951.6,45.3 952.2,45.3 952.9,43.3 953.5,45.9 954.2,45.3 954.8,44.7 955.5,45.7 956.1,44.3 956.8,44.8 957.4,47.0 958.1,45.9 958.7,46.0 959.4,45.8 960.0,45.7 960.7,45.3 961.3,47.1 962.0,45.0 962.6,45.7 963.3,44.8 963.9,44.6 964.6,42.7 965.2,43.2 965.9,46.2 966.5,46.2 967.2,44.4 967.8,44.7 968.5,45.3 969.1,43.8 969.8,46.3 970.4,43.7 971.1,44.0 971.7,42.1 972.4,46.0 973.0,44.6 973.7,46.0 974.3,43.6 975.0,44.8 975.6,44.5 976.3,44.6 976.9,46.3 977.6,46.4 978.2,45.6 978.9,44.0 979.5,45.1 980.2,45.5 980.8,44.8 981.5,44.8 982.1,44.7 982.8,43.4 983.4,44.4 984.1,45.6 984.7,43.2 985.4,44.2 986.0,44.8 986.7,42.8 987.3,43.9 988.0,42.5 988.6,43.5 989.3,42.7 989.9,43.2 990.6,43.5 991.2,43.7 991.9,43.7 992.5,41.7 993.2,45.3 993.8,43.6 994.5,42.8 995.1,43.3 995.8,44.1 996.4,42.9 997.1,43.4 997.7,43.3 998.4,44.2 999.0,43.0 999.7,44.1 1000.3,44.0 1001.0,43.5 1001.6,44.8 1002.3,43.7 1002.9,42.6 1003.6,43.9 1004.2,43.7 1004.9,43.6 1005.5,43.8 1006.2,45.7 1006.8,43.8 1007.5,44.0 1008.1,43.3 1008.8,44.7 1009.4,43.5 1010.1,42.8 1010.7,42.4 1011.4,44.0 1012.0,44.2 1012.7,42.1 1013.3,42.8 1014.0,44.0 1014.6,44.4 1015.3,42.3 1015.9,43.1 1016.6,44.2 1017.2,43.0 1017.9,43.0 1018.5,43.0 1019.2,42.3 1019.8,43.5 1020.5,43.7 1021.1,42.2 1021.8,43.5 1022.4,44.4 1023.1,43.6 1023.7,44.3 1024.4,42.9 1025.0,44.7 1025.7,42.7 1026.3,45.1 1027.0,43.0 1027.6,42.8 1028.3,42.6 1028.9,43.1 1029.6,43.0 1030.2,42.8 1030.9,43.2 1031.5,44.1 1032.2,44.3 1032.8,43.2 1033.5,44.6 1034.1,42.6 1034.8,42.6 1035.4,42.5 1036.1,44.1 1036.7,42.1 1037.4,42.3 1038.0,44.7 1038.7,45.1 1039.3,44.8 1040.0,42.3 1040.6,43.6 1041.3,44.4 1041.9,43.7 1042.6,42.2 1043.2,43.4 1043.9,42.2 1044.5,42.6 1045.2,45.7 1045.8,44.4 1046.5,42.5 1047.1,42.5 1047.8,44.3 1048.4,43.3 1049.1,44.4 1049.7,43.4 1050.4,43.8 1051.0,44.2 1051.7,43.1 1052.3,42.3 1053.0,43.0 1053.6,43.5 1054.3,44.0 1054.9,44.2 1055.6,44.2 1056.2,44.8 1056.9,43.6 1057.5,45.7 1058.2,46.3 1058.8,44.8 1059.5,44.7 1060.1,45.7 1060.8,45.2 1061.4,44.9 1062.1,44.6 1062.7,44.2 1063.4,43.8 1064.0,45.6 1064.7,46.1 1065.3,44.1 1066.0,45.1 1066.6,45.4 1067.3,44.9 1067.9,44.7 1068.6,45.1 1069.2,43.7 1069.9,45.5 1070.5,45.4 1071.2,47.7 1071.8,46.7 1072.5,45.6 1073.1,46.0 1073.8,47.7 1074.4,47.7 1075.1,46.5 1075.7,46.3 1076.4,45.2 1077.0,46.3 1077.7,46.6 1078.3,46.2 1079.0,48.5 1079.6,45.3 1080.3,47.0 1080.9,47.6 1081.6,47.8 1082.2,49.0 1082.9,46.4 1083.5,47.1 1084.2,48.0 1084.8,48.1 1085.5,47.8 1086.1,47.6 1086.8,49.4 1087.4,47.6 1088.1,48.1 1088.7,50.1 1089.4,50.5 1090.0,49.8 1090.7,48.4 1091.3,48.5 1092.0,48.6 1092.6,48.5 1093.3,49.3 1093.9,50.9 1094.6,50.1 1095.2,49.4 1095.9,49.5 1096.5,49.2 1097.2,51.5 1097.8,48.7 1098.5,50.9 1099.1,49.5 1099.8,49.9 1100.4,49.7 1101.1,52.0 1101.7,51.2 1102.4,53.8 1103.0,50.6 1103.7,50.6 1104.3,52.3 1105.0,52.4 1105.6,51.8 1106.3,50.3 1106.9,53.6 1107.6,52.9 1108.2,52.9 1108.9,52.2 1109.5,53.4 1110.2,52.5 1110.8,53.2 1111.5,53.2 1112.1,54.6 1112.8,53.3 1113.4,53.5 1114.1,55.0 1114.7,54.4 1115.4,54.4 1116.0,54.4 1116.7,55.7 1117.3,54.5 1118.0,55.7 1118.6,57.4 1119.3,56.2 1119.9,55.4 1120.6,55.3 1121.2,56.8 1121.9,55.8 1122.5,55.8 1123.2,56.9 1123.8,57.0 1124.5,59.1 1125.1,57.4 1125.8,60.6 1126.4,58.9 1127.1,60.1 1127.7,61.0 1128.4,61.1 1129.0,62.0 1129.7,61.0 1130.3,60.4 1131.0,62.8 1131.6,62.0 1132.3,63.6 1132.9,65.6 1133.6,65.2 1134.2,65.5 1134.9,65.7 1135.5,67.1 1136.2,67.9 1136.8,67.4 1137.5,69.9 1138.1,69.4 1138.8,71.4 1139.4,71.6 1140.1,73.8 1140.7,74.6 1141.4,74.8 1142.0,75.6 1142.7,77.1 1143.3,79.0 1144.0,79.7 1144.6,80.0 1145.3,81.3 1145.9,83.6 1146.6,81.9 1147.2,85.1 1147.9,85.0 1148.5,88.3 1149.2,88.0 1149.8,89.7 1150.5,90.3 1151.1,92.7 1151.8,94.9 1152.4,97.3 1153.1,96.2 1153.7,98.5 1154.4,104.1 1155.0,103.1 1155.7,103.9 1156.3,106.1 1157.0,104.9 1157.6,110.5 1158.3,110.9 1158.9,111.1 1159.6,115.2 1160.2,115.3 1160.9,116.7 1161.5,119.8 1162.2,121.4 1162.8,122.4 1163.5,124.6 1164.1,125.2 1164.8,127.0 1165.4,131.0 1166.1,133.4 1166.7,134.6 1167.4,136.7 1168.0,138.2 1168.7,140.8 1169.3,142.6 1170.0,147.7 1170.6,148.5 1171.3,152.7 1171.9,156.1 1172.6,159.3 1173.2,167.3 1173.9,170.7 1174.5,176.2 1175.2,183.0 1175.8,188.4 1176.5,195.9 1177.1,202.2 1177.8,211.5 1178.4,219.9 1179.1,228.9 1179.7,243.0 1180.4,255.6 1181.0,268.1 1181.7,281.9 1182.3,292.8 1183.0,303.4 1183.6,309.2 1184.3,318.6 1184.9,325.5 1185.6,334.0 1186.2,341.0 1186.9,348.4 1187.5,355.1 1188.2,358.9 1188.8,362.7 1189.5,368.7 1190.1,371.9 1190.8,375.7 1191.4,379.2 1192.1,381.1 1192.7,384.8 1193.4,385.9 1194.0,388.1 1194.7,390.7 1195.3,392.3 1196.0,393.3 1196.6,395.1 1197.3,395.8 1197.9,397.3 1198.6,399.3 1199.2,401.2 1199.9,401.3 1200.5,403.6 1201.2,405.7 1201.8,406.9 1202.5,406.0 1203.1,407.9 1203.8,408.4 1204.4,409.4 1205.1,410.3 1205.7,410.8 1206.4,411.9 1207.0,412.1 1207.7,412.4 1208.3,413.6 1209.0,414.5 1209.6,415.8 1210.3,415.7 1210.9,416.6 1211.6,417.8 1212.2,416.3 1212.9,417.5 1213.5,418.8 1214.2,418.8 1214.8,418.4 1215.5,420.7 1216.1,420.2 1216.8,419.9 1217.4,423.0 1218.1,420.5 1218.7,422.1 1219.4,421.9 1220.0,423.0 1220.7,423.8 1221.3,423.0 1222.0,424.0 1222.6,424.3 1223.3,423.9 1223.9,426.1 1224.6,425.6 1225.2,425.5 1225.9,425.4 1226.5,426.0 1227.2,426.7 1227.8,426.4 1228.5,428.2 1229.1,425.0 1229.8,425.6 1230.4,427.5 1231.1,426.3 1231.7,428.1 1232.4,427.7 1233.0,429.0 1233.7,429.0 1234.3,430.0 1235.0,429.8 1235.6,430.2 1236.3,429.7 1236.9,430.3 1237.6,429.9 1238.2,429.1 1238.9,428.6 1239.5,428.7 1240.2,430.3 1240.8,427.9 1241.5,430.2 1242.1,429.5 1242.8,430.9 1243.4,430.5 1244.1,429.7 1244.7,430.5 1245.4,428.4 1246.0,430.8 1246.7,431.0 1247.3,429.0 1248.0,431.5 1248.6,430.6 1249.3,430.9 1249.9,429.5 1250.6,431.4 1251.2,431.4 1251.9,430.9 1252.5,430.0 1253.2,431.6 1253.8,432.1 1254.5,431.3 1255.1,431.9 1255.8,430.5 1256.4,431.2 1257.1,431.4 1257.7,431.2 1258.4,433.6 1259.0,431.5 1259.7,430.6 1260.3,431.8 1261.0,430.1 1261.6,431.4 1262.3,431.8 1262.9,430.7 1263.6,430.8 1264.2,430.3 1264.9,431.2 1265.5,430.5 1266.2,432.6 1266.8,431.7 1267.5,430.8 1268.1,429.7 1268.8,432.8 1269.4,432.1 1270.1,431.3 1270.7,431.0 1271.4,431.0 1272.0,430.3 1272.7,432.4 1273.3,430.8 1274.0,429.2 1274.6,429.8 1275.3,428.0 1275.9,430.8 1276.6,430.8 1277.2,431.6 1277.9,431.8 1278.5,429.0 1279.2,430.0 1279.8,430.3 1280.5,430.0 1281.1,428.7 1281.8,429.7 1282.4,429.2 1283.1,429.8 1283.7,428.4 1284.4,428.0 1285.0,427.6 1285.7,427.5 1286.3,427.0 1287.0,427.1 1287.6,427.7 1288.3,427.4 1288.9,428.0 1289.6,427.6 1290.2,426.9 1290.9,425.1 1291.5,426.4 1292.2,426.7 1292.8,424.3 1293.5,424.2 1294.1,424.1 1294.8,423.8 1295.4,424.2 1296.1,423.4 1296.7,424.3 1297.4,422.6 1298.0,423.4 1298.7,422.8 1299.3,422.1 1300.0,423.7 1300.6,422.5 1301.3,422.7 1301.9,421.7 1302.6,422.4 1303.2,422.1 1303.9,421.1 1304.5,419.4 1305.2,421.5 1305.8,421.2 1306.5,420.5 1307.1,420.3 1307.8,420.0 1308.4,419.8 1309.1,418.5 1309.7,419.1 1310.4,419.3 1311.0,418.2 1311.7,417.7 1312.3,420.0 1313.0,418.6 1313.6,417.6 1314.3,417.2 1314.9,415.0 1315.6,415.9 1316.2,416.7 1316.9,417.8 1317.5,414.5 1318.2,415.4 1318.8,417.5 1319.5,416.0 1320.1,415.4 1320.8,415.8 1321.4,414.2 1322.1,413.7 1322.7,414.1 1323.4,413.8 1324.0,411.6 1324.7,413.5 1325.3,410.0 1326.0,410.5 1326.6,413.3 1327.3,409.6 1327.9,410.1 1328.6,408.0 1329.2,408.1 1329.9,407.2 1330.5,406.9 1331.2,407.3 1331.8,407.7 1332.5,406.4 1333.1,406.5 1333.8,404.1 1334.4,405.3 1335.1,404.0 1335.7,404.2 1336.4,402.2 1337.0,401.9 1337.7,402.9 1338.3,401.7 1339.0,400.9 1339.6,399.8 1340.3,399.9 1340.9,400.1 1341.6,400.0 1342.2,398.6 1342.9,398.5 1343.5,399.0 1344.2,397.4 1344.8,399.1 1345.5,398.1 1346.1,397.9 1346.8,395.9 1347.4,396.6 1348.1,397.2 1348.7,397.7 1349.4,397.3 1350.0,398.8 1350.7,398.8 1351.3,398.6 1352.0,397.2 1352.6,400.5 1353.3,399.2 1353.9,400.2 1354.6,399.2 1355.2,400.0 1355.9,400.8 1356.5,400.5 1357.2,401.3 1357.8,400.4 1358.5,402.4 1359.1,399.0 1359.8,400.2 1360.4,401.7 1361.1,400.6 1361.7,400.4 1362.4,399.2 1363.0,401.9 1363.7,399.1 1364.3,401.2 1365.0,400.9 1365.6,401.5 1366.3,401.9 1366.9,399.9 1367.6,399.7 1368.2,400.0 1368.9,398.7 1369.5,400.8 1370.2,399.6 1370.8,400.0 1371.5,398.6 1372.1,399.5 1372.8,398.8 1373.4,399.1 1374.1,397.9 1374.7,399.6 1375.4,397.9 1376.0,395.9 1376.7,398.5 1377.3,397.4 1378.0,396.5 1378.6,399.2 1379.3,396.6 1379.9,395.0 1380.6,395.3 1381.2,395.7 1381.9,394.7 1382.5,395.6 1383.2,394.9 1383.8,392.7 1384.5,392.9 1385.1,392.8 1385.8,391.3 1386.4,390.6 1387.1,391.1 1387.7,390.1 1388.4,387.7 1389.0,387.8 1389.7,387.2 1390.3,386.8 1391.0,385.6 1391.6,386.7 1392.3,383.9 1392.9,383.1 1393.6,383.6 1394.2,380.7 1394.9,381.1 1395.5,382.0 1396.2,379.6 1396.8,379.4 1397.5,380.6 1398.1,379.4 1398.8,378.5 1399.4,378.2 1400.1,376.9 1400.7,377.3 1401.4,376.4 1402.0,378.4 1402.4,376.5"/>
</g>
<g font-family="'Liberation Serif', serif" font-size="30" fill="#333333" text-anchor="end">
<text x="878" y="452.0">-60</text>
<text x="878" y="371.0">0</text>
<text x="878" y="290.0">60</text>
<text x="878" y="209.0">120</text>
<text x="878" y="128.0">180</text>
<text x="878" y="47.0">240</text>
</g>
<g font-family="'Liberation Serif', serif" font-size="30" fill="#333333" text-anchor="middle">
<text x="894.9" y="479">10</text>
<text x="1021.8" y="479">15</text>
<text x="1148.7" y="479">20</text>
<text x="1275.5" y="479">25</text>
<text x="1402.4" y="479">30</text>
</g>
<g font-family="'Liberation Serif', serif" font-size="33.5" fill="#333333">
<text x="983" y="529.5" font-size="31.2" textLength="329" lengthAdjust="spacing">Azimuth angle (degree)</text>
<text transform="translate(801.8,417.5) rotate(-90)" textLength="354.5" lengthAdjust="spacing">Phase difference (degree)</text>
</g>
<rect x="1241.6" y="46.3" width="151" height="115.6" fill="#fff" stroke="#000" stroke-width="2"/>
<g font-family="'Liberation Serif', serif" font-size="30" fill="#333333">
<path d="M1245.8,66.7 H1313.6" stroke="#000" stroke-width="1.6" fill="none"/>
<rect x="1275.8" y="61.900000000000006" width="9.6" height="9.6" fill="#000"/>
<text x="1322.5" y="75.5">31.0°</text>
<path d="M1245.8,103.6 H1313.6" stroke="#f00" stroke-width="1.6" fill="none"/>
<circle cx="1280.6" cy="103.6" r="5.2" fill="#f00"/>
<text x="1322.5" y="112.4">31.5°</text>
<path d="M1245.8,141.5 H1313.6" stroke="#00f" stroke-width="1.6" fill="none"/>
<path d="M1280.6,134.9 l6.6,9.6 h-13.2z" fill="#00f"/>
<text x="1322.5" y="150.3">32.0°</text>
</g>
</svg>
</body></html>
